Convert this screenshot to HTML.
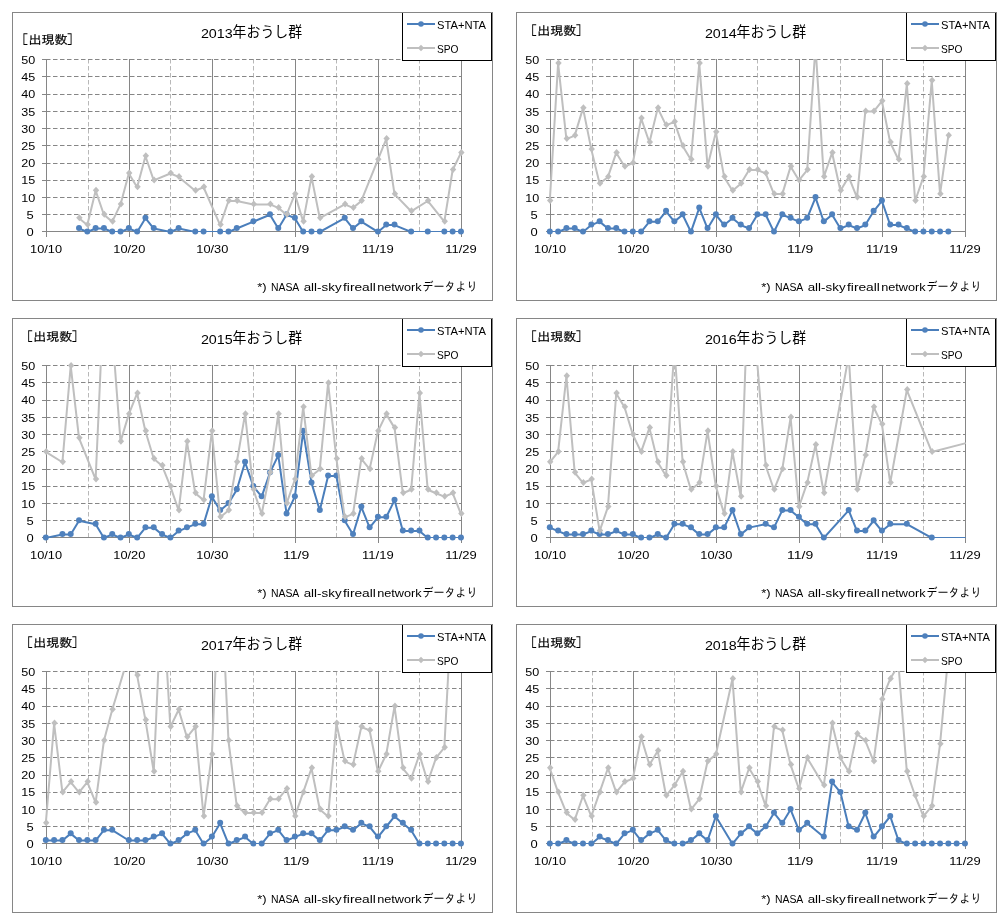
<!DOCTYPE html>
<html><head><meta charset="utf-8"><title>おうし群 出現数</title>
<style>
html,body{margin:0;padding:0;background:#fff;}
body{width:1008px;height:920px;overflow:hidden;}
svg{display:block;}
text{fill:#000;}
.ax{font-family:'Liberation Sans', 'Noto Sans CJK JP', sans-serif;font-size:11px;}
.lg{font-family:'Liberation Sans', 'Noto Sans CJK JP', sans-serif;font-size:11px;}
.tt{font-family:'Liberation Sans', 'Noto Sans CJK JP', sans-serif;font-size:13.5px;}
.tj{font-family:'Noto Sans CJK JP', sans-serif;font-size:14.5px;}
.yu{font-family:'Liberation Sans', 'IPAGothic', 'Noto Sans CJK JP', sans-serif;font-size:12px;stroke:#000;stroke-width:0.2px;}
.yb{font-family:'IPAGothic',sans-serif;font-size:13px;}
.fn{font-family:'Liberation Sans', 'Noto Sans CJK JP', sans-serif;font-size:10px;}
.fj{font-family:'Liberation Sans', 'IPAGothic', 'Noto Sans CJK JP', sans-serif;font-size:12.5px;}
</style></head><body>
<svg width="1008" height="920" viewBox="0 0 1008 920">
<defs><clipPath id="clip"><rect x="0" y="59" width="1008" height="173"/></clipPath></defs>
<g transform="translate(0,0)">
<rect x="12.5" y="12.5" width="480" height="288" fill="#fff" stroke="#868686" stroke-width="1"/>
<line x1="88.5" y1="59" x2="88.5" y2="231" stroke="#B8B8B8" stroke-width="1" stroke-dasharray="4.5 2.5"/>
<line x1="170.5" y1="59" x2="170.5" y2="231" stroke="#B8B8B8" stroke-width="1" stroke-dasharray="4.5 2.5"/>
<line x1="253.5" y1="59" x2="253.5" y2="231" stroke="#B8B8B8" stroke-width="1" stroke-dasharray="4.5 2.5"/>
<line x1="336.5" y1="59" x2="336.5" y2="231" stroke="#B8B8B8" stroke-width="1" stroke-dasharray="4.5 2.5"/>
<line x1="419.5" y1="59" x2="419.5" y2="231" stroke="#B8B8B8" stroke-width="1" stroke-dasharray="4.5 2.5"/>
<line x1="46" y1="59.5" x2="462" y2="59.5" stroke="#868686" stroke-width="1" stroke-dasharray="4.5 2.5"/>
<line x1="46" y1="76.5" x2="462" y2="76.5" stroke="#868686" stroke-width="1" stroke-dasharray="4.5 2.5"/>
<line x1="46" y1="94.5" x2="462" y2="94.5" stroke="#868686" stroke-width="1" stroke-dasharray="4.5 2.5"/>
<line x1="46" y1="111.5" x2="462" y2="111.5" stroke="#868686" stroke-width="1" stroke-dasharray="4.5 2.5"/>
<line x1="46" y1="128.5" x2="462" y2="128.5" stroke="#868686" stroke-width="1" stroke-dasharray="4.5 2.5"/>
<line x1="46" y1="145.5" x2="462" y2="145.5" stroke="#868686" stroke-width="1" stroke-dasharray="4.5 2.5"/>
<line x1="46" y1="163.5" x2="462" y2="163.5" stroke="#868686" stroke-width="1" stroke-dasharray="4.5 2.5"/>
<line x1="46" y1="180.5" x2="462" y2="180.5" stroke="#868686" stroke-width="1" stroke-dasharray="4.5 2.5"/>
<line x1="46" y1="197.5" x2="462" y2="197.5" stroke="#868686" stroke-width="1" stroke-dasharray="4.5 2.5"/>
<line x1="46" y1="214.5" x2="462" y2="214.5" stroke="#868686" stroke-width="1" stroke-dasharray="4.5 2.5"/>
<line x1="129.5" y1="59" x2="129.5" y2="237" stroke="#868686" stroke-width="1"/>
<line x1="212.5" y1="59" x2="212.5" y2="237" stroke="#868686" stroke-width="1"/>
<line x1="295.5" y1="59" x2="295.5" y2="237" stroke="#868686" stroke-width="1"/>
<line x1="378.5" y1="59" x2="378.5" y2="237" stroke="#868686" stroke-width="1"/>
<line x1="461.5" y1="59" x2="461.5" y2="237" stroke="#868686" stroke-width="1"/>
<line x1="42" y1="59.5" x2="50" y2="59.5" stroke="#868686" stroke-width="1"/>
<line x1="42" y1="76.5" x2="50" y2="76.5" stroke="#868686" stroke-width="1"/>
<line x1="42" y1="94.5" x2="50" y2="94.5" stroke="#868686" stroke-width="1"/>
<line x1="42" y1="111.5" x2="50" y2="111.5" stroke="#868686" stroke-width="1"/>
<line x1="42" y1="128.5" x2="50" y2="128.5" stroke="#868686" stroke-width="1"/>
<line x1="42" y1="145.5" x2="50" y2="145.5" stroke="#868686" stroke-width="1"/>
<line x1="42" y1="163.5" x2="50" y2="163.5" stroke="#868686" stroke-width="1"/>
<line x1="42" y1="180.5" x2="50" y2="180.5" stroke="#868686" stroke-width="1"/>
<line x1="42" y1="197.5" x2="50" y2="197.5" stroke="#868686" stroke-width="1"/>
<line x1="42" y1="214.5" x2="50" y2="214.5" stroke="#868686" stroke-width="1"/>
<line x1="42" y1="231.5" x2="50" y2="231.5" stroke="#868686" stroke-width="1"/>
<line x1="42" y1="231.5" x2="462" y2="231.5" stroke="#868686" stroke-width="1"/>
<line x1="46.5" y1="59" x2="46.5" y2="237" stroke="#868686" stroke-width="1"/>
<g clip-path="url(#clip)">
<polyline points="79.01,228.51 87.31,231.95 95.62,228.51 103.92,228.51 112.22,231.95 120.53,231.95 128.83,228.51 137.13,231.95 145.44,218.19 153.74,228.51 170.35,231.95 178.65,228.51 195.25,231.95 203.56,231.95 220.16,231.95 228.47,231.95 236.77,228.51 253.38,221.63 269.98,214.75 278.28,228.51 286.59,214.75 294.89,218.19 303.19,231.95 311.5,231.95 319.8,231.95 344.71,218.19 353.01,228.51 361.31,221.63 377.92,231.95 386.22,225.07 394.53,225.07 411.13,231.95 427.74,231.95 444.34,231.95 452.65,231.95 460.95,231.95" fill="none" stroke="#4A7EBB" stroke-width="2.0" stroke-linejoin="round" stroke-linecap="round"/>
</g>
<circle cx="79.01" cy="228.06" r="3" fill="#4F81BD"/>
<circle cx="87.31" cy="231.5" r="3" fill="#4F81BD"/>
<circle cx="95.62" cy="228.06" r="3" fill="#4F81BD"/>
<circle cx="103.92" cy="228.06" r="3" fill="#4F81BD"/>
<circle cx="112.22" cy="231.5" r="3" fill="#4F81BD"/>
<circle cx="120.53" cy="231.5" r="3" fill="#4F81BD"/>
<circle cx="128.83" cy="228.06" r="3" fill="#4F81BD"/>
<circle cx="137.13" cy="231.5" r="3" fill="#4F81BD"/>
<circle cx="145.44" cy="217.74" r="3" fill="#4F81BD"/>
<circle cx="153.74" cy="228.06" r="3" fill="#4F81BD"/>
<circle cx="170.35" cy="231.5" r="3" fill="#4F81BD"/>
<circle cx="178.65" cy="228.06" r="3" fill="#4F81BD"/>
<circle cx="195.25" cy="231.5" r="3" fill="#4F81BD"/>
<circle cx="203.56" cy="231.5" r="3" fill="#4F81BD"/>
<circle cx="220.16" cy="231.5" r="3" fill="#4F81BD"/>
<circle cx="228.47" cy="231.5" r="3" fill="#4F81BD"/>
<circle cx="236.77" cy="228.06" r="3" fill="#4F81BD"/>
<circle cx="253.38" cy="221.18" r="3" fill="#4F81BD"/>
<circle cx="269.98" cy="214.3" r="3" fill="#4F81BD"/>
<circle cx="278.28" cy="228.06" r="3" fill="#4F81BD"/>
<circle cx="286.59" cy="214.3" r="3" fill="#4F81BD"/>
<circle cx="294.89" cy="217.74" r="3" fill="#4F81BD"/>
<circle cx="303.19" cy="231.5" r="3" fill="#4F81BD"/>
<circle cx="311.5" cy="231.5" r="3" fill="#4F81BD"/>
<circle cx="319.8" cy="231.5" r="3" fill="#4F81BD"/>
<circle cx="344.71" cy="217.74" r="3" fill="#4F81BD"/>
<circle cx="353.01" cy="228.06" r="3" fill="#4F81BD"/>
<circle cx="361.31" cy="221.18" r="3" fill="#4F81BD"/>
<circle cx="377.92" cy="231.5" r="3" fill="#4F81BD"/>
<circle cx="386.22" cy="224.62" r="3" fill="#4F81BD"/>
<circle cx="394.53" cy="224.62" r="3" fill="#4F81BD"/>
<circle cx="411.13" cy="231.5" r="3" fill="#4F81BD"/>
<circle cx="427.74" cy="231.5" r="3" fill="#4F81BD"/>
<circle cx="444.34" cy="231.5" r="3" fill="#4F81BD"/>
<circle cx="452.65" cy="231.5" r="3" fill="#4F81BD"/>
<circle cx="460.95" cy="231.5" r="3" fill="#4F81BD"/>
<g clip-path="url(#clip)">
<polyline points="79.01,218.19 87.31,225.07 95.62,190.67 103.92,214.75 112.22,221.63 120.53,204.43 128.83,173.47 137.13,187.23 145.44,156.27 153.74,180.35 170.35,173.47 178.65,176.91 195.25,190.67 203.56,187.23 220.16,225.07 228.47,200.99 236.77,200.99 253.38,204.43 269.98,204.43 278.28,207.87 286.59,214.75 294.89,194.11 303.19,221.63 311.5,176.91 319.8,218.19 344.71,204.43 353.01,207.87 361.31,200.99 377.92,159.71 386.22,139.07 394.53,194.11 411.13,211.31 427.74,200.99 444.34,221.63 452.65,170.03 460.95,152.83" fill="none" stroke="#BFBFBF" stroke-width="2.0" stroke-linejoin="round" stroke-linecap="round"/>
</g>
<path d="M79.41 214.24L82.61 217.74L79.41 221.24L76.21 217.74Z" fill="#BFBFBF"/>
<path d="M87.72 221.12L90.92 224.62L87.72 228.12L84.52 224.62Z" fill="#BFBFBF"/>
<path d="M96.02 186.72L99.22 190.22L96.02 193.72L92.82 190.22Z" fill="#BFBFBF"/>
<path d="M104.32 210.8L107.52 214.3L104.32 217.8L101.12 214.3Z" fill="#BFBFBF"/>
<path d="M112.62 217.68L115.82 221.18L112.62 224.68L109.42 221.18Z" fill="#BFBFBF"/>
<path d="M120.93 200.48L124.13 203.98L120.93 207.48L117.73 203.98Z" fill="#BFBFBF"/>
<path d="M129.23 169.52L132.43 173.02L129.23 176.52L126.03 173.02Z" fill="#BFBFBF"/>
<path d="M137.53 183.28L140.73 186.78L137.53 190.28L134.33 186.78Z" fill="#BFBFBF"/>
<path d="M145.84 152.32L149.04 155.82L145.84 159.32L142.64 155.82Z" fill="#BFBFBF"/>
<path d="M154.14 176.4L157.34 179.9L154.14 183.4L150.94 179.9Z" fill="#BFBFBF"/>
<path d="M170.75 169.52L173.95 173.02L170.75 176.52L167.55 173.02Z" fill="#BFBFBF"/>
<path d="M179.05 172.96L182.25 176.46L179.05 179.96L175.85 176.46Z" fill="#BFBFBF"/>
<path d="M195.65 186.72L198.85 190.22L195.65 193.72L192.45 190.22Z" fill="#BFBFBF"/>
<path d="M203.96 183.28L207.16 186.78L203.96 190.28L200.76 186.78Z" fill="#BFBFBF"/>
<path d="M220.56 221.12L223.76 224.62L220.56 228.12L217.36 224.62Z" fill="#BFBFBF"/>
<path d="M228.87 197.04L232.07 200.54L228.87 204.04L225.67 200.54Z" fill="#BFBFBF"/>
<path d="M237.17 197.04L240.37 200.54L237.17 204.04L233.97 200.54Z" fill="#BFBFBF"/>
<path d="M253.78 200.48L256.98 203.98L253.78 207.48L250.58 203.98Z" fill="#BFBFBF"/>
<path d="M270.38 200.48L273.58 203.98L270.38 207.48L267.18 203.98Z" fill="#BFBFBF"/>
<path d="M278.68 203.92L281.88 207.42L278.68 210.92L275.48 207.42Z" fill="#BFBFBF"/>
<path d="M286.99 210.8L290.19 214.3L286.99 217.8L283.79 214.3Z" fill="#BFBFBF"/>
<path d="M295.29 190.16L298.49 193.66L295.29 197.16L292.09 193.66Z" fill="#BFBFBF"/>
<path d="M303.59 217.68L306.79 221.18L303.59 224.68L300.39 221.18Z" fill="#BFBFBF"/>
<path d="M311.9 172.96L315.1 176.46L311.9 179.96L308.7 176.46Z" fill="#BFBFBF"/>
<path d="M320.2 214.24L323.4 217.74L320.2 221.24L317 217.74Z" fill="#BFBFBF"/>
<path d="M345.11 200.48L348.31 203.98L345.11 207.48L341.91 203.98Z" fill="#BFBFBF"/>
<path d="M353.41 203.92L356.61 207.42L353.41 210.92L350.21 207.42Z" fill="#BFBFBF"/>
<path d="M361.71 197.04L364.91 200.54L361.71 204.04L358.51 200.54Z" fill="#BFBFBF"/>
<path d="M378.32 155.76L381.52 159.26L378.32 162.76L375.12 159.26Z" fill="#BFBFBF"/>
<path d="M386.62 135.12L389.82 138.62L386.62 142.12L383.42 138.62Z" fill="#BFBFBF"/>
<path d="M394.93 190.16L398.13 193.66L394.93 197.16L391.73 193.66Z" fill="#BFBFBF"/>
<path d="M411.53 207.36L414.73 210.86L411.53 214.36L408.33 210.86Z" fill="#BFBFBF"/>
<path d="M428.14 197.04L431.34 200.54L428.14 204.04L424.94 200.54Z" fill="#BFBFBF"/>
<path d="M444.74 217.68L447.94 221.18L444.74 224.68L441.54 221.18Z" fill="#BFBFBF"/>
<path d="M453.05 166.08L456.25 169.58L453.05 173.08L449.85 169.58Z" fill="#BFBFBF"/>
<path d="M461.35 148.88L464.55 152.38L461.35 155.88L458.15 152.38Z" fill="#BFBFBF"/>
<rect x="402.5" y="12.5" width="89" height="48" fill="#fff" stroke="#000" stroke-width="1"/>
<rect x="12.5" y="12.5" width="480" height="288" fill="none" stroke="#868686" stroke-width="1"/>
<line x1="407" y1="24" x2="435" y2="24" stroke="#4A7EBB" stroke-width="2.0"/>
<circle cx="421" cy="24" r="2.8" fill="#4F81BD"/>
<line x1="407" y1="48" x2="435" y2="48" stroke="#BFBFBF" stroke-width="2.0"/>
<path d="M421 44.8L424.2 48L421 51.2L417.8 48Z" fill="#BFBFBF"/>
<text x="437" y="29" class="lg" textLength="49" lengthAdjust="spacingAndGlyphs">STA+NTA</text>
<text x="437" y="52.5" class="lg" textLength="21.5" lengthAdjust="spacingAndGlyphs">SPO</text>
<text x="200.9" y="37.9" class="tt" textLength="31.8" lengthAdjust="spacingAndGlyphs">2013</text>
<text x="232.6" y="37" class="tj" textLength="69.5" lengthAdjust="spacingAndGlyphs">年おうし群</text>
<text x="21.9" y="44.2" class="yb">[</text>
<text x="28.4" y="44.3" class="yu" textLength="39.2" lengthAdjust="spacingAndGlyphs">出現数</text>
<text x="66.5" y="44.2" class="yb">]</text>
<text x="21.2" y="63.9" class="ax" textLength="14" lengthAdjust="spacingAndGlyphs">50</text>
<text x="21.2" y="81.1" class="ax" textLength="14" lengthAdjust="spacingAndGlyphs">45</text>
<text x="21.2" y="98.3" class="ax" textLength="14" lengthAdjust="spacingAndGlyphs">40</text>
<text x="21.2" y="115.5" class="ax" textLength="14" lengthAdjust="spacingAndGlyphs">35</text>
<text x="21.2" y="132.7" class="ax" textLength="14" lengthAdjust="spacingAndGlyphs">30</text>
<text x="21.2" y="149.9" class="ax" textLength="14" lengthAdjust="spacingAndGlyphs">25</text>
<text x="21.2" y="167.1" class="ax" textLength="14" lengthAdjust="spacingAndGlyphs">20</text>
<text x="21.2" y="184.3" class="ax" textLength="14" lengthAdjust="spacingAndGlyphs">15</text>
<text x="21.2" y="201.5" class="ax" textLength="14" lengthAdjust="spacingAndGlyphs">10</text>
<text x="26.6" y="218.7" class="ax" textLength="7.2" lengthAdjust="spacingAndGlyphs">5</text>
<text x="26.6" y="235.9" class="ax" textLength="7.2" lengthAdjust="spacingAndGlyphs">0</text>
<text x="30.1" y="253.2" class="ax" textLength="32" lengthAdjust="spacingAndGlyphs">10/10</text>
<text x="113.3" y="253.2" class="ax" textLength="32" lengthAdjust="spacingAndGlyphs">10/20</text>
<text x="196.3" y="253.2" class="ax" textLength="32" lengthAdjust="spacingAndGlyphs">10/30</text>
<text x="283" y="253.2" class="ax" textLength="26.2" lengthAdjust="spacingAndGlyphs">11/9</text>
<text x="362.1" y="253.2" class="ax" textLength="31.6" lengthAdjust="spacingAndGlyphs">11/19</text>
<text x="445.3" y="253.2" class="ax" textLength="31.5" lengthAdjust="spacingAndGlyphs">11/29</text>
<text x="257.2" y="290.7" class="fn" textLength="9.4" lengthAdjust="spacingAndGlyphs">*)</text>
<text x="270.9" y="290.7" class="fn" textLength="28.4" lengthAdjust="spacingAndGlyphs">NASA</text>
<text x="303.7" y="290.7" class="fn" textLength="37.9" lengthAdjust="spacingAndGlyphs">all-sky</text>
<text x="343" y="290.7" class="fn" textLength="32.9" lengthAdjust="spacingAndGlyphs">fireall</text>
<text x="377.2" y="290.7" class="fn" textLength="44.5" lengthAdjust="spacingAndGlyphs">network</text>
<text x="422.6" y="290.8" class="fj" textLength="55" lengthAdjust="spacingAndGlyphs">データより</text>
</g>
<g transform="translate(504,0)">
<rect x="12.5" y="12.5" width="480" height="288" fill="#fff" stroke="#868686" stroke-width="1"/>
<line x1="88.5" y1="59" x2="88.5" y2="231" stroke="#B8B8B8" stroke-width="1" stroke-dasharray="4.5 2.5"/>
<line x1="170.5" y1="59" x2="170.5" y2="231" stroke="#B8B8B8" stroke-width="1" stroke-dasharray="4.5 2.5"/>
<line x1="253.5" y1="59" x2="253.5" y2="231" stroke="#B8B8B8" stroke-width="1" stroke-dasharray="4.5 2.5"/>
<line x1="336.5" y1="59" x2="336.5" y2="231" stroke="#B8B8B8" stroke-width="1" stroke-dasharray="4.5 2.5"/>
<line x1="419.5" y1="59" x2="419.5" y2="231" stroke="#B8B8B8" stroke-width="1" stroke-dasharray="4.5 2.5"/>
<line x1="46" y1="59.5" x2="462" y2="59.5" stroke="#868686" stroke-width="1" stroke-dasharray="4.5 2.5"/>
<line x1="46" y1="76.5" x2="462" y2="76.5" stroke="#868686" stroke-width="1" stroke-dasharray="4.5 2.5"/>
<line x1="46" y1="94.5" x2="462" y2="94.5" stroke="#868686" stroke-width="1" stroke-dasharray="4.5 2.5"/>
<line x1="46" y1="111.5" x2="462" y2="111.5" stroke="#868686" stroke-width="1" stroke-dasharray="4.5 2.5"/>
<line x1="46" y1="128.5" x2="462" y2="128.5" stroke="#868686" stroke-width="1" stroke-dasharray="4.5 2.5"/>
<line x1="46" y1="145.5" x2="462" y2="145.5" stroke="#868686" stroke-width="1" stroke-dasharray="4.5 2.5"/>
<line x1="46" y1="163.5" x2="462" y2="163.5" stroke="#868686" stroke-width="1" stroke-dasharray="4.5 2.5"/>
<line x1="46" y1="180.5" x2="462" y2="180.5" stroke="#868686" stroke-width="1" stroke-dasharray="4.5 2.5"/>
<line x1="46" y1="197.5" x2="462" y2="197.5" stroke="#868686" stroke-width="1" stroke-dasharray="4.5 2.5"/>
<line x1="46" y1="214.5" x2="462" y2="214.5" stroke="#868686" stroke-width="1" stroke-dasharray="4.5 2.5"/>
<line x1="129.5" y1="59" x2="129.5" y2="237" stroke="#868686" stroke-width="1"/>
<line x1="212.5" y1="59" x2="212.5" y2="237" stroke="#868686" stroke-width="1"/>
<line x1="295.5" y1="59" x2="295.5" y2="237" stroke="#868686" stroke-width="1"/>
<line x1="378.5" y1="59" x2="378.5" y2="237" stroke="#868686" stroke-width="1"/>
<line x1="461.5" y1="59" x2="461.5" y2="237" stroke="#868686" stroke-width="1"/>
<line x1="42" y1="59.5" x2="50" y2="59.5" stroke="#868686" stroke-width="1"/>
<line x1="42" y1="76.5" x2="50" y2="76.5" stroke="#868686" stroke-width="1"/>
<line x1="42" y1="94.5" x2="50" y2="94.5" stroke="#868686" stroke-width="1"/>
<line x1="42" y1="111.5" x2="50" y2="111.5" stroke="#868686" stroke-width="1"/>
<line x1="42" y1="128.5" x2="50" y2="128.5" stroke="#868686" stroke-width="1"/>
<line x1="42" y1="145.5" x2="50" y2="145.5" stroke="#868686" stroke-width="1"/>
<line x1="42" y1="163.5" x2="50" y2="163.5" stroke="#868686" stroke-width="1"/>
<line x1="42" y1="180.5" x2="50" y2="180.5" stroke="#868686" stroke-width="1"/>
<line x1="42" y1="197.5" x2="50" y2="197.5" stroke="#868686" stroke-width="1"/>
<line x1="42" y1="214.5" x2="50" y2="214.5" stroke="#868686" stroke-width="1"/>
<line x1="42" y1="231.5" x2="50" y2="231.5" stroke="#868686" stroke-width="1"/>
<line x1="42" y1="231.5" x2="462" y2="231.5" stroke="#868686" stroke-width="1"/>
<line x1="46.5" y1="59" x2="46.5" y2="237" stroke="#868686" stroke-width="1"/>
<g clip-path="url(#clip)">
<polyline points="45.8,231.95 54.1,231.95 62.41,228.51 70.71,228.51 79.01,231.95 87.31,225.07 95.62,221.63 103.92,228.51 112.22,228.51 120.53,231.95 128.83,231.95 137.13,231.95 145.44,221.63 153.74,221.63 162.04,211.31 170.35,221.63 178.65,214.75 186.95,231.95 195.25,207.87 203.56,228.51 211.86,214.75 220.16,225.07 228.47,218.19 236.77,225.07 245.07,228.51 253.38,214.75 261.68,214.75 269.98,231.95 278.28,214.75 286.59,218.19 294.89,221.63 303.19,218.19 311.5,197.55 319.8,221.63 328.1,214.75 336.41,228.51 344.71,225.07 353.01,228.51 361.31,225.07 369.62,211.31 377.92,200.99 386.22,225.07 394.53,225.07 402.83,228.51 411.13,231.95 419.44,231.95 427.74,231.95 436.04,231.95 444.34,231.95" fill="none" stroke="#4A7EBB" stroke-width="2.0" stroke-linejoin="round" stroke-linecap="round"/>
</g>
<circle cx="45.8" cy="231.5" r="3" fill="#4F81BD"/>
<circle cx="54.1" cy="231.5" r="3" fill="#4F81BD"/>
<circle cx="62.41" cy="228.06" r="3" fill="#4F81BD"/>
<circle cx="70.71" cy="228.06" r="3" fill="#4F81BD"/>
<circle cx="79.01" cy="231.5" r="3" fill="#4F81BD"/>
<circle cx="87.31" cy="224.62" r="3" fill="#4F81BD"/>
<circle cx="95.62" cy="221.18" r="3" fill="#4F81BD"/>
<circle cx="103.92" cy="228.06" r="3" fill="#4F81BD"/>
<circle cx="112.22" cy="228.06" r="3" fill="#4F81BD"/>
<circle cx="120.53" cy="231.5" r="3" fill="#4F81BD"/>
<circle cx="128.83" cy="231.5" r="3" fill="#4F81BD"/>
<circle cx="137.13" cy="231.5" r="3" fill="#4F81BD"/>
<circle cx="145.44" cy="221.18" r="3" fill="#4F81BD"/>
<circle cx="153.74" cy="221.18" r="3" fill="#4F81BD"/>
<circle cx="162.04" cy="210.86" r="3" fill="#4F81BD"/>
<circle cx="170.35" cy="221.18" r="3" fill="#4F81BD"/>
<circle cx="178.65" cy="214.3" r="3" fill="#4F81BD"/>
<circle cx="186.95" cy="231.5" r="3" fill="#4F81BD"/>
<circle cx="195.25" cy="207.42" r="3" fill="#4F81BD"/>
<circle cx="203.56" cy="228.06" r="3" fill="#4F81BD"/>
<circle cx="211.86" cy="214.3" r="3" fill="#4F81BD"/>
<circle cx="220.16" cy="224.62" r="3" fill="#4F81BD"/>
<circle cx="228.47" cy="217.74" r="3" fill="#4F81BD"/>
<circle cx="236.77" cy="224.62" r="3" fill="#4F81BD"/>
<circle cx="245.07" cy="228.06" r="3" fill="#4F81BD"/>
<circle cx="253.38" cy="214.3" r="3" fill="#4F81BD"/>
<circle cx="261.68" cy="214.3" r="3" fill="#4F81BD"/>
<circle cx="269.98" cy="231.5" r="3" fill="#4F81BD"/>
<circle cx="278.28" cy="214.3" r="3" fill="#4F81BD"/>
<circle cx="286.59" cy="217.74" r="3" fill="#4F81BD"/>
<circle cx="294.89" cy="221.18" r="3" fill="#4F81BD"/>
<circle cx="303.19" cy="217.74" r="3" fill="#4F81BD"/>
<circle cx="311.5" cy="197.1" r="3" fill="#4F81BD"/>
<circle cx="319.8" cy="221.18" r="3" fill="#4F81BD"/>
<circle cx="328.1" cy="214.3" r="3" fill="#4F81BD"/>
<circle cx="336.41" cy="228.06" r="3" fill="#4F81BD"/>
<circle cx="344.71" cy="224.62" r="3" fill="#4F81BD"/>
<circle cx="353.01" cy="228.06" r="3" fill="#4F81BD"/>
<circle cx="361.31" cy="224.62" r="3" fill="#4F81BD"/>
<circle cx="369.62" cy="210.86" r="3" fill="#4F81BD"/>
<circle cx="377.92" cy="200.54" r="3" fill="#4F81BD"/>
<circle cx="386.22" cy="224.62" r="3" fill="#4F81BD"/>
<circle cx="394.53" cy="224.62" r="3" fill="#4F81BD"/>
<circle cx="402.83" cy="228.06" r="3" fill="#4F81BD"/>
<circle cx="411.13" cy="231.5" r="3" fill="#4F81BD"/>
<circle cx="419.44" cy="231.5" r="3" fill="#4F81BD"/>
<circle cx="427.74" cy="231.5" r="3" fill="#4F81BD"/>
<circle cx="436.04" cy="231.5" r="3" fill="#4F81BD"/>
<circle cx="444.34" cy="231.5" r="3" fill="#4F81BD"/>
<g clip-path="url(#clip)">
<polyline points="45.8,200.99 54.1,63.39 62.41,139.07 70.71,135.63 79.01,108.11 87.31,149.39 95.62,183.79 103.92,176.91 112.22,152.83 120.53,166.59 128.83,163.15 137.13,118.43 145.44,142.51 153.74,108.11 162.04,125.31 170.35,121.87 178.65,145.95 186.95,159.71 195.25,63.39 203.56,166.59 211.86,132.19 220.16,176.91 228.47,190.67 236.77,183.79 245.07,170.03 253.38,170.03 261.68,173.47 269.98,194.11 278.28,194.11 286.59,166.59 294.89,180.35 303.19,170.03 311.5,46.19 319.8,176.91 328.1,152.83 336.41,190.67 344.71,176.91 353.01,197.55 361.31,111.55 369.62,111.55 377.92,101.23 386.22,142.51 394.53,159.71 402.83,84.03 411.13,200.99 419.44,176.91 427.74,80.59 436.04,194.11 444.34,135.63" fill="none" stroke="#BFBFBF" stroke-width="2.0" stroke-linejoin="round" stroke-linecap="round"/>
</g>
<path d="M46.2 197.04L49.4 200.54L46.2 204.04L43 200.54Z" fill="#BFBFBF"/>
<path d="M54.5 59.44L57.7 62.94L54.5 66.44L51.3 62.94Z" fill="#BFBFBF"/>
<path d="M62.81 135.12L66.01 138.62L62.81 142.12L59.61 138.62Z" fill="#BFBFBF"/>
<path d="M71.11 131.68L74.31 135.18L71.11 138.68L67.91 135.18Z" fill="#BFBFBF"/>
<path d="M79.41 104.16L82.61 107.66L79.41 111.16L76.21 107.66Z" fill="#BFBFBF"/>
<path d="M87.72 145.44L90.92 148.94L87.72 152.44L84.52 148.94Z" fill="#BFBFBF"/>
<path d="M96.02 179.84L99.22 183.34L96.02 186.84L92.82 183.34Z" fill="#BFBFBF"/>
<path d="M104.32 172.96L107.52 176.46L104.32 179.96L101.12 176.46Z" fill="#BFBFBF"/>
<path d="M112.62 148.88L115.82 152.38L112.62 155.88L109.42 152.38Z" fill="#BFBFBF"/>
<path d="M120.93 162.64L124.13 166.14L120.93 169.64L117.73 166.14Z" fill="#BFBFBF"/>
<path d="M129.23 159.2L132.43 162.7L129.23 166.2L126.03 162.7Z" fill="#BFBFBF"/>
<path d="M137.53 114.48L140.73 117.98L137.53 121.48L134.33 117.98Z" fill="#BFBFBF"/>
<path d="M145.84 138.56L149.04 142.06L145.84 145.56L142.64 142.06Z" fill="#BFBFBF"/>
<path d="M154.14 104.16L157.34 107.66L154.14 111.16L150.94 107.66Z" fill="#BFBFBF"/>
<path d="M162.44 121.36L165.64 124.86L162.44 128.36L159.24 124.86Z" fill="#BFBFBF"/>
<path d="M170.75 117.92L173.95 121.42L170.75 124.92L167.55 121.42Z" fill="#BFBFBF"/>
<path d="M179.05 142L182.25 145.5L179.05 149L175.85 145.5Z" fill="#BFBFBF"/>
<path d="M187.35 155.76L190.55 159.26L187.35 162.76L184.15 159.26Z" fill="#BFBFBF"/>
<path d="M195.65 59.44L198.85 62.94L195.65 66.44L192.45 62.94Z" fill="#BFBFBF"/>
<path d="M203.96 162.64L207.16 166.14L203.96 169.64L200.76 166.14Z" fill="#BFBFBF"/>
<path d="M212.26 128.24L215.46 131.74L212.26 135.24L209.06 131.74Z" fill="#BFBFBF"/>
<path d="M220.56 172.96L223.76 176.46L220.56 179.96L217.36 176.46Z" fill="#BFBFBF"/>
<path d="M228.87 186.72L232.07 190.22L228.87 193.72L225.67 190.22Z" fill="#BFBFBF"/>
<path d="M237.17 179.84L240.37 183.34L237.17 186.84L233.97 183.34Z" fill="#BFBFBF"/>
<path d="M245.47 166.08L248.67 169.58L245.47 173.08L242.27 169.58Z" fill="#BFBFBF"/>
<path d="M253.78 166.08L256.98 169.58L253.78 173.08L250.58 169.58Z" fill="#BFBFBF"/>
<path d="M262.08 169.52L265.28 173.02L262.08 176.52L258.88 173.02Z" fill="#BFBFBF"/>
<path d="M270.38 190.16L273.58 193.66L270.38 197.16L267.18 193.66Z" fill="#BFBFBF"/>
<path d="M278.68 190.16L281.88 193.66L278.68 197.16L275.48 193.66Z" fill="#BFBFBF"/>
<path d="M286.99 162.64L290.19 166.14L286.99 169.64L283.79 166.14Z" fill="#BFBFBF"/>
<path d="M295.29 176.4L298.49 179.9L295.29 183.4L292.09 179.9Z" fill="#BFBFBF"/>
<path d="M303.59 166.08L306.79 169.58L303.59 173.08L300.39 169.58Z" fill="#BFBFBF"/>
<path d="M320.2 172.96L323.4 176.46L320.2 179.96L317 176.46Z" fill="#BFBFBF"/>
<path d="M328.5 148.88L331.7 152.38L328.5 155.88L325.3 152.38Z" fill="#BFBFBF"/>
<path d="M336.81 186.72L340 190.22L336.81 193.72L333.61 190.22Z" fill="#BFBFBF"/>
<path d="M345.11 172.96L348.31 176.46L345.11 179.96L341.91 176.46Z" fill="#BFBFBF"/>
<path d="M353.41 193.6L356.61 197.1L353.41 200.6L350.21 197.1Z" fill="#BFBFBF"/>
<path d="M361.71 107.6L364.91 111.1L361.71 114.6L358.51 111.1Z" fill="#BFBFBF"/>
<path d="M370.02 107.6L373.22 111.1L370.02 114.6L366.82 111.1Z" fill="#BFBFBF"/>
<path d="M378.32 97.28L381.52 100.78L378.32 104.28L375.12 100.78Z" fill="#BFBFBF"/>
<path d="M386.62 138.56L389.82 142.06L386.62 145.56L383.42 142.06Z" fill="#BFBFBF"/>
<path d="M394.93 155.76L398.13 159.26L394.93 162.76L391.73 159.26Z" fill="#BFBFBF"/>
<path d="M403.23 80.08L406.43 83.58L403.23 87.08L400.03 83.58Z" fill="#BFBFBF"/>
<path d="M411.53 197.04L414.73 200.54L411.53 204.04L408.33 200.54Z" fill="#BFBFBF"/>
<path d="M419.84 172.96L423.04 176.46L419.84 179.96L416.64 176.46Z" fill="#BFBFBF"/>
<path d="M428.14 76.64L431.34 80.14L428.14 83.64L424.94 80.14Z" fill="#BFBFBF"/>
<path d="M436.44 190.16L439.64 193.66L436.44 197.16L433.24 193.66Z" fill="#BFBFBF"/>
<path d="M444.74 131.68L447.94 135.18L444.74 138.68L441.54 135.18Z" fill="#BFBFBF"/>
<rect x="402.5" y="12.5" width="89" height="48" fill="#fff" stroke="#000" stroke-width="1"/>
<rect x="12.5" y="12.5" width="480" height="288" fill="none" stroke="#868686" stroke-width="1"/>
<line x1="407" y1="24" x2="435" y2="24" stroke="#4A7EBB" stroke-width="2.0"/>
<circle cx="421" cy="24" r="2.8" fill="#4F81BD"/>
<line x1="407" y1="48" x2="435" y2="48" stroke="#BFBFBF" stroke-width="2.0"/>
<path d="M421 44.8L424.2 48L421 51.2L417.8 48Z" fill="#BFBFBF"/>
<text x="437" y="29" class="lg" textLength="49" lengthAdjust="spacingAndGlyphs">STA+NTA</text>
<text x="437" y="52.5" class="lg" textLength="21.5" lengthAdjust="spacingAndGlyphs">SPO</text>
<text x="200.9" y="37.9" class="tt" textLength="31.8" lengthAdjust="spacingAndGlyphs">2014</text>
<text x="232.6" y="37" class="tj" textLength="69.5" lengthAdjust="spacingAndGlyphs">年おうし群</text>
<text x="26.7" y="35.2" class="yb">[</text>
<text x="33.2" y="35.3" class="yu" textLength="39.2" lengthAdjust="spacingAndGlyphs">出現数</text>
<text x="71.3" y="35.2" class="yb">]</text>
<text x="21.2" y="63.9" class="ax" textLength="14" lengthAdjust="spacingAndGlyphs">50</text>
<text x="21.2" y="81.1" class="ax" textLength="14" lengthAdjust="spacingAndGlyphs">45</text>
<text x="21.2" y="98.3" class="ax" textLength="14" lengthAdjust="spacingAndGlyphs">40</text>
<text x="21.2" y="115.5" class="ax" textLength="14" lengthAdjust="spacingAndGlyphs">35</text>
<text x="21.2" y="132.7" class="ax" textLength="14" lengthAdjust="spacingAndGlyphs">30</text>
<text x="21.2" y="149.9" class="ax" textLength="14" lengthAdjust="spacingAndGlyphs">25</text>
<text x="21.2" y="167.1" class="ax" textLength="14" lengthAdjust="spacingAndGlyphs">20</text>
<text x="21.2" y="184.3" class="ax" textLength="14" lengthAdjust="spacingAndGlyphs">15</text>
<text x="21.2" y="201.5" class="ax" textLength="14" lengthAdjust="spacingAndGlyphs">10</text>
<text x="26.6" y="218.7" class="ax" textLength="7.2" lengthAdjust="spacingAndGlyphs">5</text>
<text x="26.6" y="235.9" class="ax" textLength="7.2" lengthAdjust="spacingAndGlyphs">0</text>
<text x="30.1" y="253.2" class="ax" textLength="32" lengthAdjust="spacingAndGlyphs">10/10</text>
<text x="113.3" y="253.2" class="ax" textLength="32" lengthAdjust="spacingAndGlyphs">10/20</text>
<text x="196.3" y="253.2" class="ax" textLength="32" lengthAdjust="spacingAndGlyphs">10/30</text>
<text x="283" y="253.2" class="ax" textLength="26.2" lengthAdjust="spacingAndGlyphs">11/9</text>
<text x="362.1" y="253.2" class="ax" textLength="31.6" lengthAdjust="spacingAndGlyphs">11/19</text>
<text x="445.3" y="253.2" class="ax" textLength="31.5" lengthAdjust="spacingAndGlyphs">11/29</text>
<text x="257.2" y="290.7" class="fn" textLength="9.4" lengthAdjust="spacingAndGlyphs">*)</text>
<text x="270.9" y="290.7" class="fn" textLength="28.4" lengthAdjust="spacingAndGlyphs">NASA</text>
<text x="303.7" y="290.7" class="fn" textLength="37.9" lengthAdjust="spacingAndGlyphs">all-sky</text>
<text x="343" y="290.7" class="fn" textLength="32.9" lengthAdjust="spacingAndGlyphs">fireall</text>
<text x="377.2" y="290.7" class="fn" textLength="44.5" lengthAdjust="spacingAndGlyphs">network</text>
<text x="422.6" y="290.8" class="fj" textLength="55" lengthAdjust="spacingAndGlyphs">データより</text>
</g>
<g transform="translate(0,306)">
<rect x="12.5" y="12.5" width="480" height="288" fill="#fff" stroke="#868686" stroke-width="1"/>
<line x1="88.5" y1="59" x2="88.5" y2="231" stroke="#B8B8B8" stroke-width="1" stroke-dasharray="4.5 2.5"/>
<line x1="170.5" y1="59" x2="170.5" y2="231" stroke="#B8B8B8" stroke-width="1" stroke-dasharray="4.5 2.5"/>
<line x1="253.5" y1="59" x2="253.5" y2="231" stroke="#B8B8B8" stroke-width="1" stroke-dasharray="4.5 2.5"/>
<line x1="336.5" y1="59" x2="336.5" y2="231" stroke="#B8B8B8" stroke-width="1" stroke-dasharray="4.5 2.5"/>
<line x1="419.5" y1="59" x2="419.5" y2="231" stroke="#B8B8B8" stroke-width="1" stroke-dasharray="4.5 2.5"/>
<line x1="46" y1="59.5" x2="462" y2="59.5" stroke="#868686" stroke-width="1" stroke-dasharray="4.5 2.5"/>
<line x1="46" y1="76.5" x2="462" y2="76.5" stroke="#868686" stroke-width="1" stroke-dasharray="4.5 2.5"/>
<line x1="46" y1="94.5" x2="462" y2="94.5" stroke="#868686" stroke-width="1" stroke-dasharray="4.5 2.5"/>
<line x1="46" y1="111.5" x2="462" y2="111.5" stroke="#868686" stroke-width="1" stroke-dasharray="4.5 2.5"/>
<line x1="46" y1="128.5" x2="462" y2="128.5" stroke="#868686" stroke-width="1" stroke-dasharray="4.5 2.5"/>
<line x1="46" y1="145.5" x2="462" y2="145.5" stroke="#868686" stroke-width="1" stroke-dasharray="4.5 2.5"/>
<line x1="46" y1="163.5" x2="462" y2="163.5" stroke="#868686" stroke-width="1" stroke-dasharray="4.5 2.5"/>
<line x1="46" y1="180.5" x2="462" y2="180.5" stroke="#868686" stroke-width="1" stroke-dasharray="4.5 2.5"/>
<line x1="46" y1="197.5" x2="462" y2="197.5" stroke="#868686" stroke-width="1" stroke-dasharray="4.5 2.5"/>
<line x1="46" y1="214.5" x2="462" y2="214.5" stroke="#868686" stroke-width="1" stroke-dasharray="4.5 2.5"/>
<line x1="129.5" y1="59" x2="129.5" y2="237" stroke="#868686" stroke-width="1"/>
<line x1="212.5" y1="59" x2="212.5" y2="237" stroke="#868686" stroke-width="1"/>
<line x1="295.5" y1="59" x2="295.5" y2="237" stroke="#868686" stroke-width="1"/>
<line x1="378.5" y1="59" x2="378.5" y2="237" stroke="#868686" stroke-width="1"/>
<line x1="461.5" y1="59" x2="461.5" y2="237" stroke="#868686" stroke-width="1"/>
<line x1="42" y1="59.5" x2="50" y2="59.5" stroke="#868686" stroke-width="1"/>
<line x1="42" y1="76.5" x2="50" y2="76.5" stroke="#868686" stroke-width="1"/>
<line x1="42" y1="94.5" x2="50" y2="94.5" stroke="#868686" stroke-width="1"/>
<line x1="42" y1="111.5" x2="50" y2="111.5" stroke="#868686" stroke-width="1"/>
<line x1="42" y1="128.5" x2="50" y2="128.5" stroke="#868686" stroke-width="1"/>
<line x1="42" y1="145.5" x2="50" y2="145.5" stroke="#868686" stroke-width="1"/>
<line x1="42" y1="163.5" x2="50" y2="163.5" stroke="#868686" stroke-width="1"/>
<line x1="42" y1="180.5" x2="50" y2="180.5" stroke="#868686" stroke-width="1"/>
<line x1="42" y1="197.5" x2="50" y2="197.5" stroke="#868686" stroke-width="1"/>
<line x1="42" y1="214.5" x2="50" y2="214.5" stroke="#868686" stroke-width="1"/>
<line x1="42" y1="231.5" x2="50" y2="231.5" stroke="#868686" stroke-width="1"/>
<line x1="42" y1="231.5" x2="462" y2="231.5" stroke="#868686" stroke-width="1"/>
<line x1="46.5" y1="59" x2="46.5" y2="237" stroke="#868686" stroke-width="1"/>
<g clip-path="url(#clip)">
<polyline points="45.8,231.95 62.41,228.51 70.71,228.51 79.01,214.75 95.62,218.19 103.92,231.95 112.22,228.51 120.53,231.95 128.83,228.51 137.13,231.95 145.44,221.63 153.74,221.63 162.04,228.51 170.35,231.95 178.65,225.07 186.95,221.63 195.25,218.19 203.56,218.19 211.86,190.67 220.16,204.43 228.47,197.55 236.77,183.79 245.07,156.27 253.38,180.35 261.68,190.67 269.98,166.59 278.28,149.39 286.59,207.87 294.89,190.67 303.19,125.31 311.5,176.91 319.8,204.43 328.1,170.03 336.41,170.03 344.71,214.75 353.01,228.51 361.31,200.99 369.62,221.63 377.92,211.31 386.22,211.31 394.53,194.11 402.83,225.07 411.13,225.07 419.44,225.07 427.74,231.95 436.04,231.95 444.34,231.95 452.65,231.95 460.95,231.95" fill="none" stroke="#4A7EBB" stroke-width="2.0" stroke-linejoin="round" stroke-linecap="round"/>
</g>
<circle cx="45.8" cy="231.5" r="3" fill="#4F81BD"/>
<circle cx="62.41" cy="228.06" r="3" fill="#4F81BD"/>
<circle cx="70.71" cy="228.06" r="3" fill="#4F81BD"/>
<circle cx="79.01" cy="214.3" r="3" fill="#4F81BD"/>
<circle cx="95.62" cy="217.74" r="3" fill="#4F81BD"/>
<circle cx="103.92" cy="231.5" r="3" fill="#4F81BD"/>
<circle cx="112.22" cy="228.06" r="3" fill="#4F81BD"/>
<circle cx="120.53" cy="231.5" r="3" fill="#4F81BD"/>
<circle cx="128.83" cy="228.06" r="3" fill="#4F81BD"/>
<circle cx="137.13" cy="231.5" r="3" fill="#4F81BD"/>
<circle cx="145.44" cy="221.18" r="3" fill="#4F81BD"/>
<circle cx="153.74" cy="221.18" r="3" fill="#4F81BD"/>
<circle cx="162.04" cy="228.06" r="3" fill="#4F81BD"/>
<circle cx="170.35" cy="231.5" r="3" fill="#4F81BD"/>
<circle cx="178.65" cy="224.62" r="3" fill="#4F81BD"/>
<circle cx="186.95" cy="221.18" r="3" fill="#4F81BD"/>
<circle cx="195.25" cy="217.74" r="3" fill="#4F81BD"/>
<circle cx="203.56" cy="217.74" r="3" fill="#4F81BD"/>
<circle cx="211.86" cy="190.22" r="3" fill="#4F81BD"/>
<circle cx="220.16" cy="203.98" r="3" fill="#4F81BD"/>
<circle cx="228.47" cy="197.1" r="3" fill="#4F81BD"/>
<circle cx="236.77" cy="183.34" r="3" fill="#4F81BD"/>
<circle cx="245.07" cy="155.82" r="3" fill="#4F81BD"/>
<circle cx="253.38" cy="179.9" r="3" fill="#4F81BD"/>
<circle cx="261.68" cy="190.22" r="3" fill="#4F81BD"/>
<circle cx="269.98" cy="166.14" r="3" fill="#4F81BD"/>
<circle cx="278.28" cy="148.94" r="3" fill="#4F81BD"/>
<circle cx="286.59" cy="207.42" r="3" fill="#4F81BD"/>
<circle cx="294.89" cy="190.22" r="3" fill="#4F81BD"/>
<circle cx="303.19" cy="124.86" r="3" fill="#4F81BD"/>
<circle cx="311.5" cy="176.46" r="3" fill="#4F81BD"/>
<circle cx="319.8" cy="203.98" r="3" fill="#4F81BD"/>
<circle cx="328.1" cy="169.58" r="3" fill="#4F81BD"/>
<circle cx="336.41" cy="169.58" r="3" fill="#4F81BD"/>
<circle cx="344.71" cy="214.3" r="3" fill="#4F81BD"/>
<circle cx="353.01" cy="228.06" r="3" fill="#4F81BD"/>
<circle cx="361.31" cy="200.54" r="3" fill="#4F81BD"/>
<circle cx="369.62" cy="221.18" r="3" fill="#4F81BD"/>
<circle cx="377.92" cy="210.86" r="3" fill="#4F81BD"/>
<circle cx="386.22" cy="210.86" r="3" fill="#4F81BD"/>
<circle cx="394.53" cy="193.66" r="3" fill="#4F81BD"/>
<circle cx="402.83" cy="224.62" r="3" fill="#4F81BD"/>
<circle cx="411.13" cy="224.62" r="3" fill="#4F81BD"/>
<circle cx="419.44" cy="224.62" r="3" fill="#4F81BD"/>
<circle cx="427.74" cy="231.5" r="3" fill="#4F81BD"/>
<circle cx="436.04" cy="231.5" r="3" fill="#4F81BD"/>
<circle cx="444.34" cy="231.5" r="3" fill="#4F81BD"/>
<circle cx="452.65" cy="231.5" r="3" fill="#4F81BD"/>
<circle cx="460.95" cy="231.5" r="3" fill="#4F81BD"/>
<g clip-path="url(#clip)">
<polyline points="45.8,145.95 62.41,156.27 70.71,59.95 79.01,132.19 95.62,173.47 103.92,-12.29 112.22,25.55 120.53,135.63 128.83,108.11 137.13,87.47 145.44,125.31 153.74,152.83 162.04,159.71 170.35,180.35 178.65,204.43 186.95,135.63 195.25,187.23 203.56,194.11 211.86,125.31 220.16,211.31 228.47,204.43 236.77,156.27 245.07,108.11 253.38,183.79 261.68,207.87 269.98,166.59 278.28,108.11 286.59,197.55 294.89,173.47 303.19,101.23 311.5,170.03 319.8,163.15 328.1,77.15 336.41,152.83 344.71,211.31 353.01,207.87 361.31,152.83 369.62,163.15 377.92,125.31 386.22,108.11 394.53,121.87 402.83,187.23 411.13,183.79 419.44,87.47 427.74,183.79 436.04,187.23 444.34,190.67 452.65,187.23 460.95,207.87" fill="none" stroke="#BFBFBF" stroke-width="2.0" stroke-linejoin="round" stroke-linecap="round"/>
</g>
<path d="M46.2 142L49.4 145.5L46.2 149L43 145.5Z" fill="#BFBFBF"/>
<path d="M62.81 152.32L66.01 155.82L62.81 159.32L59.61 155.82Z" fill="#BFBFBF"/>
<path d="M71.11 56L74.31 59.5L71.11 63L67.91 59.5Z" fill="#BFBFBF"/>
<path d="M79.41 128.24L82.61 131.74L79.41 135.24L76.21 131.74Z" fill="#BFBFBF"/>
<path d="M96.02 169.52L99.22 173.02L96.02 176.52L92.82 173.02Z" fill="#BFBFBF"/>
<path d="M120.93 131.68L124.13 135.18L120.93 138.68L117.73 135.18Z" fill="#BFBFBF"/>
<path d="M129.23 104.16L132.43 107.66L129.23 111.16L126.03 107.66Z" fill="#BFBFBF"/>
<path d="M137.53 83.52L140.73 87.02L137.53 90.52L134.33 87.02Z" fill="#BFBFBF"/>
<path d="M145.84 121.36L149.04 124.86L145.84 128.36L142.64 124.86Z" fill="#BFBFBF"/>
<path d="M154.14 148.88L157.34 152.38L154.14 155.88L150.94 152.38Z" fill="#BFBFBF"/>
<path d="M162.44 155.76L165.64 159.26L162.44 162.76L159.24 159.26Z" fill="#BFBFBF"/>
<path d="M170.75 176.4L173.95 179.9L170.75 183.4L167.55 179.9Z" fill="#BFBFBF"/>
<path d="M179.05 200.48L182.25 203.98L179.05 207.48L175.85 203.98Z" fill="#BFBFBF"/>
<path d="M187.35 131.68L190.55 135.18L187.35 138.68L184.15 135.18Z" fill="#BFBFBF"/>
<path d="M195.65 183.28L198.85 186.78L195.65 190.28L192.45 186.78Z" fill="#BFBFBF"/>
<path d="M203.96 190.16L207.16 193.66L203.96 197.16L200.76 193.66Z" fill="#BFBFBF"/>
<path d="M212.26 121.36L215.46 124.86L212.26 128.36L209.06 124.86Z" fill="#BFBFBF"/>
<path d="M220.56 207.36L223.76 210.86L220.56 214.36L217.36 210.86Z" fill="#BFBFBF"/>
<path d="M228.87 200.48L232.07 203.98L228.87 207.48L225.67 203.98Z" fill="#BFBFBF"/>
<path d="M237.17 152.32L240.37 155.82L237.17 159.32L233.97 155.82Z" fill="#BFBFBF"/>
<path d="M245.47 104.16L248.67 107.66L245.47 111.16L242.27 107.66Z" fill="#BFBFBF"/>
<path d="M253.78 179.84L256.98 183.34L253.78 186.84L250.58 183.34Z" fill="#BFBFBF"/>
<path d="M262.08 203.92L265.28 207.42L262.08 210.92L258.88 207.42Z" fill="#BFBFBF"/>
<path d="M270.38 162.64L273.58 166.14L270.38 169.64L267.18 166.14Z" fill="#BFBFBF"/>
<path d="M278.68 104.16L281.88 107.66L278.68 111.16L275.48 107.66Z" fill="#BFBFBF"/>
<path d="M286.99 193.6L290.19 197.1L286.99 200.6L283.79 197.1Z" fill="#BFBFBF"/>
<path d="M295.29 169.52L298.49 173.02L295.29 176.52L292.09 173.02Z" fill="#BFBFBF"/>
<path d="M303.59 97.28L306.79 100.78L303.59 104.28L300.39 100.78Z" fill="#BFBFBF"/>
<path d="M311.9 166.08L315.1 169.58L311.9 173.08L308.7 169.58Z" fill="#BFBFBF"/>
<path d="M320.2 159.2L323.4 162.7L320.2 166.2L317 162.7Z" fill="#BFBFBF"/>
<path d="M328.5 73.2L331.7 76.7L328.5 80.2L325.3 76.7Z" fill="#BFBFBF"/>
<path d="M336.81 148.88L340 152.38L336.81 155.88L333.61 152.38Z" fill="#BFBFBF"/>
<path d="M345.11 207.36L348.31 210.86L345.11 214.36L341.91 210.86Z" fill="#BFBFBF"/>
<path d="M353.41 203.92L356.61 207.42L353.41 210.92L350.21 207.42Z" fill="#BFBFBF"/>
<path d="M361.71 148.88L364.91 152.38L361.71 155.88L358.51 152.38Z" fill="#BFBFBF"/>
<path d="M370.02 159.2L373.22 162.7L370.02 166.2L366.82 162.7Z" fill="#BFBFBF"/>
<path d="M378.32 121.36L381.52 124.86L378.32 128.36L375.12 124.86Z" fill="#BFBFBF"/>
<path d="M386.62 104.16L389.82 107.66L386.62 111.16L383.42 107.66Z" fill="#BFBFBF"/>
<path d="M394.93 117.92L398.13 121.42L394.93 124.92L391.73 121.42Z" fill="#BFBFBF"/>
<path d="M403.23 183.28L406.43 186.78L403.23 190.28L400.03 186.78Z" fill="#BFBFBF"/>
<path d="M411.53 179.84L414.73 183.34L411.53 186.84L408.33 183.34Z" fill="#BFBFBF"/>
<path d="M419.84 83.52L423.04 87.02L419.84 90.52L416.64 87.02Z" fill="#BFBFBF"/>
<path d="M428.14 179.84L431.34 183.34L428.14 186.84L424.94 183.34Z" fill="#BFBFBF"/>
<path d="M436.44 183.28L439.64 186.78L436.44 190.28L433.24 186.78Z" fill="#BFBFBF"/>
<path d="M444.74 186.72L447.94 190.22L444.74 193.72L441.54 190.22Z" fill="#BFBFBF"/>
<path d="M453.05 183.28L456.25 186.78L453.05 190.28L449.85 186.78Z" fill="#BFBFBF"/>
<path d="M461.35 203.92L464.55 207.42L461.35 210.92L458.15 207.42Z" fill="#BFBFBF"/>
<rect x="402.5" y="12.5" width="89" height="48" fill="#fff" stroke="#000" stroke-width="1"/>
<rect x="12.5" y="12.5" width="480" height="288" fill="none" stroke="#868686" stroke-width="1"/>
<line x1="407" y1="24" x2="435" y2="24" stroke="#4A7EBB" stroke-width="2.0"/>
<circle cx="421" cy="24" r="2.8" fill="#4F81BD"/>
<line x1="407" y1="48" x2="435" y2="48" stroke="#BFBFBF" stroke-width="2.0"/>
<path d="M421 44.8L424.2 48L421 51.2L417.8 48Z" fill="#BFBFBF"/>
<text x="437" y="29" class="lg" textLength="49" lengthAdjust="spacingAndGlyphs">STA+NTA</text>
<text x="437" y="52.5" class="lg" textLength="21.5" lengthAdjust="spacingAndGlyphs">SPO</text>
<text x="200.9" y="37.9" class="tt" textLength="31.8" lengthAdjust="spacingAndGlyphs">2015</text>
<text x="232.6" y="37" class="tj" textLength="69.5" lengthAdjust="spacingAndGlyphs">年おうし群</text>
<text x="26.7" y="35.2" class="yb">[</text>
<text x="33.2" y="35.3" class="yu" textLength="39.2" lengthAdjust="spacingAndGlyphs">出現数</text>
<text x="71.3" y="35.2" class="yb">]</text>
<text x="21.2" y="63.9" class="ax" textLength="14" lengthAdjust="spacingAndGlyphs">50</text>
<text x="21.2" y="81.1" class="ax" textLength="14" lengthAdjust="spacingAndGlyphs">45</text>
<text x="21.2" y="98.3" class="ax" textLength="14" lengthAdjust="spacingAndGlyphs">40</text>
<text x="21.2" y="115.5" class="ax" textLength="14" lengthAdjust="spacingAndGlyphs">35</text>
<text x="21.2" y="132.7" class="ax" textLength="14" lengthAdjust="spacingAndGlyphs">30</text>
<text x="21.2" y="149.9" class="ax" textLength="14" lengthAdjust="spacingAndGlyphs">25</text>
<text x="21.2" y="167.1" class="ax" textLength="14" lengthAdjust="spacingAndGlyphs">20</text>
<text x="21.2" y="184.3" class="ax" textLength="14" lengthAdjust="spacingAndGlyphs">15</text>
<text x="21.2" y="201.5" class="ax" textLength="14" lengthAdjust="spacingAndGlyphs">10</text>
<text x="26.6" y="218.7" class="ax" textLength="7.2" lengthAdjust="spacingAndGlyphs">5</text>
<text x="26.6" y="235.9" class="ax" textLength="7.2" lengthAdjust="spacingAndGlyphs">0</text>
<text x="30.1" y="253.2" class="ax" textLength="32" lengthAdjust="spacingAndGlyphs">10/10</text>
<text x="113.3" y="253.2" class="ax" textLength="32" lengthAdjust="spacingAndGlyphs">10/20</text>
<text x="196.3" y="253.2" class="ax" textLength="32" lengthAdjust="spacingAndGlyphs">10/30</text>
<text x="283" y="253.2" class="ax" textLength="26.2" lengthAdjust="spacingAndGlyphs">11/9</text>
<text x="362.1" y="253.2" class="ax" textLength="31.6" lengthAdjust="spacingAndGlyphs">11/19</text>
<text x="445.3" y="253.2" class="ax" textLength="31.5" lengthAdjust="spacingAndGlyphs">11/29</text>
<text x="257.2" y="290.7" class="fn" textLength="9.4" lengthAdjust="spacingAndGlyphs">*)</text>
<text x="270.9" y="290.7" class="fn" textLength="28.4" lengthAdjust="spacingAndGlyphs">NASA</text>
<text x="303.7" y="290.7" class="fn" textLength="37.9" lengthAdjust="spacingAndGlyphs">all-sky</text>
<text x="343" y="290.7" class="fn" textLength="32.9" lengthAdjust="spacingAndGlyphs">fireall</text>
<text x="377.2" y="290.7" class="fn" textLength="44.5" lengthAdjust="spacingAndGlyphs">network</text>
<text x="422.6" y="290.8" class="fj" textLength="55" lengthAdjust="spacingAndGlyphs">データより</text>
</g>
<g transform="translate(504,306)">
<rect x="12.5" y="12.5" width="480" height="288" fill="#fff" stroke="#868686" stroke-width="1"/>
<line x1="88.5" y1="59" x2="88.5" y2="231" stroke="#B8B8B8" stroke-width="1" stroke-dasharray="4.5 2.5"/>
<line x1="170.5" y1="59" x2="170.5" y2="231" stroke="#B8B8B8" stroke-width="1" stroke-dasharray="4.5 2.5"/>
<line x1="253.5" y1="59" x2="253.5" y2="231" stroke="#B8B8B8" stroke-width="1" stroke-dasharray="4.5 2.5"/>
<line x1="336.5" y1="59" x2="336.5" y2="231" stroke="#B8B8B8" stroke-width="1" stroke-dasharray="4.5 2.5"/>
<line x1="419.5" y1="59" x2="419.5" y2="231" stroke="#B8B8B8" stroke-width="1" stroke-dasharray="4.5 2.5"/>
<line x1="46" y1="59.5" x2="462" y2="59.5" stroke="#868686" stroke-width="1" stroke-dasharray="4.5 2.5"/>
<line x1="46" y1="76.5" x2="462" y2="76.5" stroke="#868686" stroke-width="1" stroke-dasharray="4.5 2.5"/>
<line x1="46" y1="94.5" x2="462" y2="94.5" stroke="#868686" stroke-width="1" stroke-dasharray="4.5 2.5"/>
<line x1="46" y1="111.5" x2="462" y2="111.5" stroke="#868686" stroke-width="1" stroke-dasharray="4.5 2.5"/>
<line x1="46" y1="128.5" x2="462" y2="128.5" stroke="#868686" stroke-width="1" stroke-dasharray="4.5 2.5"/>
<line x1="46" y1="145.5" x2="462" y2="145.5" stroke="#868686" stroke-width="1" stroke-dasharray="4.5 2.5"/>
<line x1="46" y1="163.5" x2="462" y2="163.5" stroke="#868686" stroke-width="1" stroke-dasharray="4.5 2.5"/>
<line x1="46" y1="180.5" x2="462" y2="180.5" stroke="#868686" stroke-width="1" stroke-dasharray="4.5 2.5"/>
<line x1="46" y1="197.5" x2="462" y2="197.5" stroke="#868686" stroke-width="1" stroke-dasharray="4.5 2.5"/>
<line x1="46" y1="214.5" x2="462" y2="214.5" stroke="#868686" stroke-width="1" stroke-dasharray="4.5 2.5"/>
<line x1="129.5" y1="59" x2="129.5" y2="237" stroke="#868686" stroke-width="1"/>
<line x1="212.5" y1="59" x2="212.5" y2="237" stroke="#868686" stroke-width="1"/>
<line x1="295.5" y1="59" x2="295.5" y2="237" stroke="#868686" stroke-width="1"/>
<line x1="378.5" y1="59" x2="378.5" y2="237" stroke="#868686" stroke-width="1"/>
<line x1="461.5" y1="59" x2="461.5" y2="237" stroke="#868686" stroke-width="1"/>
<line x1="42" y1="59.5" x2="50" y2="59.5" stroke="#868686" stroke-width="1"/>
<line x1="42" y1="76.5" x2="50" y2="76.5" stroke="#868686" stroke-width="1"/>
<line x1="42" y1="94.5" x2="50" y2="94.5" stroke="#868686" stroke-width="1"/>
<line x1="42" y1="111.5" x2="50" y2="111.5" stroke="#868686" stroke-width="1"/>
<line x1="42" y1="128.5" x2="50" y2="128.5" stroke="#868686" stroke-width="1"/>
<line x1="42" y1="145.5" x2="50" y2="145.5" stroke="#868686" stroke-width="1"/>
<line x1="42" y1="163.5" x2="50" y2="163.5" stroke="#868686" stroke-width="1"/>
<line x1="42" y1="180.5" x2="50" y2="180.5" stroke="#868686" stroke-width="1"/>
<line x1="42" y1="197.5" x2="50" y2="197.5" stroke="#868686" stroke-width="1"/>
<line x1="42" y1="214.5" x2="50" y2="214.5" stroke="#868686" stroke-width="1"/>
<line x1="42" y1="231.5" x2="50" y2="231.5" stroke="#868686" stroke-width="1"/>
<line x1="42" y1="231.5" x2="462" y2="231.5" stroke="#868686" stroke-width="1"/>
<line x1="46.5" y1="59" x2="46.5" y2="237" stroke="#868686" stroke-width="1"/>
<g clip-path="url(#clip)">
<polyline points="45.8,221.63 54.1,225.07 62.41,228.51 70.71,228.51 79.01,228.51 87.31,225.07 95.62,228.51 103.92,228.51 112.22,225.07 120.53,228.51 128.83,228.51 137.13,231.95 145.44,231.95 153.74,228.51 162.04,231.95 170.35,218.19 178.65,218.19 186.95,221.63 195.25,228.51 203.56,228.51 211.86,221.63 220.16,221.63 228.47,204.43 236.77,228.51 245.07,221.63 261.68,218.19 269.98,221.63 278.28,204.43 286.59,204.43 294.89,211.31 303.19,218.19 311.5,218.19 319.8,231.95 344.71,204.43 353.01,225.07 361.31,225.07 369.62,214.75 377.92,225.07 386.22,218.19 402.83,218.19 427.74,231.95 460.95,231.95" fill="none" stroke="#4A7EBB" stroke-width="2.0" stroke-linejoin="round" stroke-linecap="round"/>
</g>
<circle cx="45.8" cy="221.18" r="3" fill="#4F81BD"/>
<circle cx="54.1" cy="224.62" r="3" fill="#4F81BD"/>
<circle cx="62.41" cy="228.06" r="3" fill="#4F81BD"/>
<circle cx="70.71" cy="228.06" r="3" fill="#4F81BD"/>
<circle cx="79.01" cy="228.06" r="3" fill="#4F81BD"/>
<circle cx="87.31" cy="224.62" r="3" fill="#4F81BD"/>
<circle cx="95.62" cy="228.06" r="3" fill="#4F81BD"/>
<circle cx="103.92" cy="228.06" r="3" fill="#4F81BD"/>
<circle cx="112.22" cy="224.62" r="3" fill="#4F81BD"/>
<circle cx="120.53" cy="228.06" r="3" fill="#4F81BD"/>
<circle cx="128.83" cy="228.06" r="3" fill="#4F81BD"/>
<circle cx="137.13" cy="231.5" r="3" fill="#4F81BD"/>
<circle cx="145.44" cy="231.5" r="3" fill="#4F81BD"/>
<circle cx="153.74" cy="228.06" r="3" fill="#4F81BD"/>
<circle cx="162.04" cy="231.5" r="3" fill="#4F81BD"/>
<circle cx="170.35" cy="217.74" r="3" fill="#4F81BD"/>
<circle cx="178.65" cy="217.74" r="3" fill="#4F81BD"/>
<circle cx="186.95" cy="221.18" r="3" fill="#4F81BD"/>
<circle cx="195.25" cy="228.06" r="3" fill="#4F81BD"/>
<circle cx="203.56" cy="228.06" r="3" fill="#4F81BD"/>
<circle cx="211.86" cy="221.18" r="3" fill="#4F81BD"/>
<circle cx="220.16" cy="221.18" r="3" fill="#4F81BD"/>
<circle cx="228.47" cy="203.98" r="3" fill="#4F81BD"/>
<circle cx="236.77" cy="228.06" r="3" fill="#4F81BD"/>
<circle cx="245.07" cy="221.18" r="3" fill="#4F81BD"/>
<circle cx="261.68" cy="217.74" r="3" fill="#4F81BD"/>
<circle cx="269.98" cy="221.18" r="3" fill="#4F81BD"/>
<circle cx="278.28" cy="203.98" r="3" fill="#4F81BD"/>
<circle cx="286.59" cy="203.98" r="3" fill="#4F81BD"/>
<circle cx="294.89" cy="210.86" r="3" fill="#4F81BD"/>
<circle cx="303.19" cy="217.74" r="3" fill="#4F81BD"/>
<circle cx="311.5" cy="217.74" r="3" fill="#4F81BD"/>
<circle cx="319.8" cy="231.5" r="3" fill="#4F81BD"/>
<circle cx="344.71" cy="203.98" r="3" fill="#4F81BD"/>
<circle cx="353.01" cy="224.62" r="3" fill="#4F81BD"/>
<circle cx="361.31" cy="224.62" r="3" fill="#4F81BD"/>
<circle cx="369.62" cy="214.3" r="3" fill="#4F81BD"/>
<circle cx="377.92" cy="224.62" r="3" fill="#4F81BD"/>
<circle cx="386.22" cy="217.74" r="3" fill="#4F81BD"/>
<circle cx="402.83" cy="217.74" r="3" fill="#4F81BD"/>
<circle cx="427.74" cy="231.5" r="3" fill="#4F81BD"/>
<g clip-path="url(#clip)">
<polyline points="45.8,156.27 54.1,145.95 62.41,70.27 70.71,166.59 79.01,176.91 87.31,173.47 95.62,225.07 103.92,200.99 112.22,87.47 120.53,101.23 128.83,128.75 137.13,145.95 145.44,121.87 153.74,156.27 162.04,170.03 170.35,42.75 178.65,156.27 186.95,183.79 195.25,176.91 203.56,125.31 211.86,180.35 220.16,207.87 228.47,145.95 236.77,190.67 245.07,-43.25 261.68,159.71 269.98,183.79 278.28,163.15 286.59,111.55 294.89,200.99 303.19,176.91 311.5,139.07 319.8,187.23 344.71,49.63 353.01,183.79 361.31,149.39 369.62,101.23 377.92,118.43 386.22,176.91 402.83,84.03 427.74,145.95 460.95,137.35" fill="none" stroke="#BFBFBF" stroke-width="2.0" stroke-linejoin="round" stroke-linecap="round"/>
</g>
<path d="M46.2 152.32L49.4 155.82L46.2 159.32L43 155.82Z" fill="#BFBFBF"/>
<path d="M54.5 142L57.7 145.5L54.5 149L51.3 145.5Z" fill="#BFBFBF"/>
<path d="M62.81 66.32L66.01 69.82L62.81 73.32L59.61 69.82Z" fill="#BFBFBF"/>
<path d="M71.11 162.64L74.31 166.14L71.11 169.64L67.91 166.14Z" fill="#BFBFBF"/>
<path d="M79.41 172.96L82.61 176.46L79.41 179.96L76.21 176.46Z" fill="#BFBFBF"/>
<path d="M87.72 169.52L90.92 173.02L87.72 176.52L84.52 173.02Z" fill="#BFBFBF"/>
<path d="M96.02 221.12L99.22 224.62L96.02 228.12L92.82 224.62Z" fill="#BFBFBF"/>
<path d="M104.32 197.04L107.52 200.54L104.32 204.04L101.12 200.54Z" fill="#BFBFBF"/>
<path d="M112.62 83.52L115.82 87.02L112.62 90.52L109.42 87.02Z" fill="#BFBFBF"/>
<path d="M120.93 97.28L124.13 100.78L120.93 104.28L117.73 100.78Z" fill="#BFBFBF"/>
<path d="M129.23 124.8L132.43 128.3L129.23 131.8L126.03 128.3Z" fill="#BFBFBF"/>
<path d="M137.53 142L140.73 145.5L137.53 149L134.33 145.5Z" fill="#BFBFBF"/>
<path d="M145.84 117.92L149.04 121.42L145.84 124.92L142.64 121.42Z" fill="#BFBFBF"/>
<path d="M154.14 152.32L157.34 155.82L154.14 159.32L150.94 155.82Z" fill="#BFBFBF"/>
<path d="M162.44 166.08L165.64 169.58L162.44 173.08L159.24 169.58Z" fill="#BFBFBF"/>
<path d="M179.05 152.32L182.25 155.82L179.05 159.32L175.85 155.82Z" fill="#BFBFBF"/>
<path d="M187.35 179.84L190.55 183.34L187.35 186.84L184.15 183.34Z" fill="#BFBFBF"/>
<path d="M195.65 172.96L198.85 176.46L195.65 179.96L192.45 176.46Z" fill="#BFBFBF"/>
<path d="M203.96 121.36L207.16 124.86L203.96 128.36L200.76 124.86Z" fill="#BFBFBF"/>
<path d="M212.26 176.4L215.46 179.9L212.26 183.4L209.06 179.9Z" fill="#BFBFBF"/>
<path d="M220.56 203.92L223.76 207.42L220.56 210.92L217.36 207.42Z" fill="#BFBFBF"/>
<path d="M228.87 142L232.07 145.5L228.87 149L225.67 145.5Z" fill="#BFBFBF"/>
<path d="M237.17 186.72L240.37 190.22L237.17 193.72L233.97 190.22Z" fill="#BFBFBF"/>
<path d="M262.08 155.76L265.28 159.26L262.08 162.76L258.88 159.26Z" fill="#BFBFBF"/>
<path d="M270.38 179.84L273.58 183.34L270.38 186.84L267.18 183.34Z" fill="#BFBFBF"/>
<path d="M278.68 159.2L281.88 162.7L278.68 166.2L275.48 162.7Z" fill="#BFBFBF"/>
<path d="M286.99 107.6L290.19 111.1L286.99 114.6L283.79 111.1Z" fill="#BFBFBF"/>
<path d="M295.29 197.04L298.49 200.54L295.29 204.04L292.09 200.54Z" fill="#BFBFBF"/>
<path d="M303.59 172.96L306.79 176.46L303.59 179.96L300.39 176.46Z" fill="#BFBFBF"/>
<path d="M311.9 135.12L315.1 138.62L311.9 142.12L308.7 138.62Z" fill="#BFBFBF"/>
<path d="M320.2 183.28L323.4 186.78L320.2 190.28L317 186.78Z" fill="#BFBFBF"/>
<path d="M353.41 179.84L356.61 183.34L353.41 186.84L350.21 183.34Z" fill="#BFBFBF"/>
<path d="M361.71 145.44L364.91 148.94L361.71 152.44L358.51 148.94Z" fill="#BFBFBF"/>
<path d="M370.02 97.28L373.22 100.78L370.02 104.28L366.82 100.78Z" fill="#BFBFBF"/>
<path d="M378.32 114.48L381.52 117.98L378.32 121.48L375.12 117.98Z" fill="#BFBFBF"/>
<path d="M386.62 172.96L389.82 176.46L386.62 179.96L383.42 176.46Z" fill="#BFBFBF"/>
<path d="M403.23 80.08L406.43 83.58L403.23 87.08L400.03 83.58Z" fill="#BFBFBF"/>
<path d="M428.14 142L431.34 145.5L428.14 149L424.94 145.5Z" fill="#BFBFBF"/>
<rect x="402.5" y="12.5" width="89" height="48" fill="#fff" stroke="#000" stroke-width="1"/>
<rect x="12.5" y="12.5" width="480" height="288" fill="none" stroke="#868686" stroke-width="1"/>
<line x1="407" y1="24" x2="435" y2="24" stroke="#4A7EBB" stroke-width="2.0"/>
<circle cx="421" cy="24" r="2.8" fill="#4F81BD"/>
<line x1="407" y1="48" x2="435" y2="48" stroke="#BFBFBF" stroke-width="2.0"/>
<path d="M421 44.8L424.2 48L421 51.2L417.8 48Z" fill="#BFBFBF"/>
<text x="437" y="29" class="lg" textLength="49" lengthAdjust="spacingAndGlyphs">STA+NTA</text>
<text x="437" y="52.5" class="lg" textLength="21.5" lengthAdjust="spacingAndGlyphs">SPO</text>
<text x="200.9" y="37.9" class="tt" textLength="31.8" lengthAdjust="spacingAndGlyphs">2016</text>
<text x="232.6" y="37" class="tj" textLength="69.5" lengthAdjust="spacingAndGlyphs">年おうし群</text>
<text x="26.7" y="35.2" class="yb">[</text>
<text x="33.2" y="35.3" class="yu" textLength="39.2" lengthAdjust="spacingAndGlyphs">出現数</text>
<text x="71.3" y="35.2" class="yb">]</text>
<text x="21.2" y="63.9" class="ax" textLength="14" lengthAdjust="spacingAndGlyphs">50</text>
<text x="21.2" y="81.1" class="ax" textLength="14" lengthAdjust="spacingAndGlyphs">45</text>
<text x="21.2" y="98.3" class="ax" textLength="14" lengthAdjust="spacingAndGlyphs">40</text>
<text x="21.2" y="115.5" class="ax" textLength="14" lengthAdjust="spacingAndGlyphs">35</text>
<text x="21.2" y="132.7" class="ax" textLength="14" lengthAdjust="spacingAndGlyphs">30</text>
<text x="21.2" y="149.9" class="ax" textLength="14" lengthAdjust="spacingAndGlyphs">25</text>
<text x="21.2" y="167.1" class="ax" textLength="14" lengthAdjust="spacingAndGlyphs">20</text>
<text x="21.2" y="184.3" class="ax" textLength="14" lengthAdjust="spacingAndGlyphs">15</text>
<text x="21.2" y="201.5" class="ax" textLength="14" lengthAdjust="spacingAndGlyphs">10</text>
<text x="26.6" y="218.7" class="ax" textLength="7.2" lengthAdjust="spacingAndGlyphs">5</text>
<text x="26.6" y="235.9" class="ax" textLength="7.2" lengthAdjust="spacingAndGlyphs">0</text>
<text x="30.1" y="253.2" class="ax" textLength="32" lengthAdjust="spacingAndGlyphs">10/10</text>
<text x="113.3" y="253.2" class="ax" textLength="32" lengthAdjust="spacingAndGlyphs">10/20</text>
<text x="196.3" y="253.2" class="ax" textLength="32" lengthAdjust="spacingAndGlyphs">10/30</text>
<text x="283" y="253.2" class="ax" textLength="26.2" lengthAdjust="spacingAndGlyphs">11/9</text>
<text x="362.1" y="253.2" class="ax" textLength="31.6" lengthAdjust="spacingAndGlyphs">11/19</text>
<text x="445.3" y="253.2" class="ax" textLength="31.5" lengthAdjust="spacingAndGlyphs">11/29</text>
<text x="257.2" y="290.7" class="fn" textLength="9.4" lengthAdjust="spacingAndGlyphs">*)</text>
<text x="270.9" y="290.7" class="fn" textLength="28.4" lengthAdjust="spacingAndGlyphs">NASA</text>
<text x="303.7" y="290.7" class="fn" textLength="37.9" lengthAdjust="spacingAndGlyphs">all-sky</text>
<text x="343" y="290.7" class="fn" textLength="32.9" lengthAdjust="spacingAndGlyphs">fireall</text>
<text x="377.2" y="290.7" class="fn" textLength="44.5" lengthAdjust="spacingAndGlyphs">network</text>
<text x="422.6" y="290.8" class="fj" textLength="55" lengthAdjust="spacingAndGlyphs">データより</text>
</g>
<g transform="translate(0,612)">
<rect x="12.5" y="12.5" width="480" height="288" fill="#fff" stroke="#868686" stroke-width="1"/>
<line x1="88.5" y1="59" x2="88.5" y2="231" stroke="#B8B8B8" stroke-width="1" stroke-dasharray="4.5 2.5"/>
<line x1="170.5" y1="59" x2="170.5" y2="231" stroke="#B8B8B8" stroke-width="1" stroke-dasharray="4.5 2.5"/>
<line x1="253.5" y1="59" x2="253.5" y2="231" stroke="#B8B8B8" stroke-width="1" stroke-dasharray="4.5 2.5"/>
<line x1="336.5" y1="59" x2="336.5" y2="231" stroke="#B8B8B8" stroke-width="1" stroke-dasharray="4.5 2.5"/>
<line x1="419.5" y1="59" x2="419.5" y2="231" stroke="#B8B8B8" stroke-width="1" stroke-dasharray="4.5 2.5"/>
<line x1="46" y1="59.5" x2="462" y2="59.5" stroke="#868686" stroke-width="1" stroke-dasharray="4.5 2.5"/>
<line x1="46" y1="76.5" x2="462" y2="76.5" stroke="#868686" stroke-width="1" stroke-dasharray="4.5 2.5"/>
<line x1="46" y1="94.5" x2="462" y2="94.5" stroke="#868686" stroke-width="1" stroke-dasharray="4.5 2.5"/>
<line x1="46" y1="111.5" x2="462" y2="111.5" stroke="#868686" stroke-width="1" stroke-dasharray="4.5 2.5"/>
<line x1="46" y1="128.5" x2="462" y2="128.5" stroke="#868686" stroke-width="1" stroke-dasharray="4.5 2.5"/>
<line x1="46" y1="145.5" x2="462" y2="145.5" stroke="#868686" stroke-width="1" stroke-dasharray="4.5 2.5"/>
<line x1="46" y1="163.5" x2="462" y2="163.5" stroke="#868686" stroke-width="1" stroke-dasharray="4.5 2.5"/>
<line x1="46" y1="180.5" x2="462" y2="180.5" stroke="#868686" stroke-width="1" stroke-dasharray="4.5 2.5"/>
<line x1="46" y1="197.5" x2="462" y2="197.5" stroke="#868686" stroke-width="1" stroke-dasharray="4.5 2.5"/>
<line x1="46" y1="214.5" x2="462" y2="214.5" stroke="#868686" stroke-width="1" stroke-dasharray="4.5 2.5"/>
<line x1="129.5" y1="59" x2="129.5" y2="237" stroke="#868686" stroke-width="1"/>
<line x1="212.5" y1="59" x2="212.5" y2="237" stroke="#868686" stroke-width="1"/>
<line x1="295.5" y1="59" x2="295.5" y2="237" stroke="#868686" stroke-width="1"/>
<line x1="378.5" y1="59" x2="378.5" y2="237" stroke="#868686" stroke-width="1"/>
<line x1="461.5" y1="59" x2="461.5" y2="237" stroke="#868686" stroke-width="1"/>
<line x1="42" y1="59.5" x2="50" y2="59.5" stroke="#868686" stroke-width="1"/>
<line x1="42" y1="76.5" x2="50" y2="76.5" stroke="#868686" stroke-width="1"/>
<line x1="42" y1="94.5" x2="50" y2="94.5" stroke="#868686" stroke-width="1"/>
<line x1="42" y1="111.5" x2="50" y2="111.5" stroke="#868686" stroke-width="1"/>
<line x1="42" y1="128.5" x2="50" y2="128.5" stroke="#868686" stroke-width="1"/>
<line x1="42" y1="145.5" x2="50" y2="145.5" stroke="#868686" stroke-width="1"/>
<line x1="42" y1="163.5" x2="50" y2="163.5" stroke="#868686" stroke-width="1"/>
<line x1="42" y1="180.5" x2="50" y2="180.5" stroke="#868686" stroke-width="1"/>
<line x1="42" y1="197.5" x2="50" y2="197.5" stroke="#868686" stroke-width="1"/>
<line x1="42" y1="214.5" x2="50" y2="214.5" stroke="#868686" stroke-width="1"/>
<line x1="42" y1="231.5" x2="50" y2="231.5" stroke="#868686" stroke-width="1"/>
<line x1="42" y1="231.5" x2="462" y2="231.5" stroke="#868686" stroke-width="1"/>
<line x1="46.5" y1="59" x2="46.5" y2="237" stroke="#868686" stroke-width="1"/>
<g clip-path="url(#clip)">
<polyline points="45.8,228.51 54.1,228.51 62.41,228.51 70.71,221.63 79.01,228.51 87.31,228.51 95.62,228.51 103.92,218.19 112.22,218.19 128.83,228.51 137.13,228.51 145.44,228.51 153.74,225.07 162.04,221.63 170.35,231.95 178.65,228.51 186.95,221.63 195.25,218.19 203.56,231.95 211.86,225.07 220.16,211.31 228.47,231.95 236.77,228.51 245.07,225.07 253.38,231.95 261.68,231.95 269.98,221.63 278.28,218.19 286.59,228.51 294.89,225.07 303.19,221.63 311.5,221.63 319.8,228.51 328.1,218.19 336.41,218.19 344.71,214.75 353.01,218.19 361.31,211.31 369.62,214.75 377.92,225.07 386.22,214.75 394.53,204.43 402.83,211.31 411.13,218.19 419.44,231.95 427.74,231.95 436.04,231.95 444.34,231.95 452.65,231.95 460.95,231.95" fill="none" stroke="#4A7EBB" stroke-width="2.0" stroke-linejoin="round" stroke-linecap="round"/>
</g>
<circle cx="45.8" cy="228.06" r="3" fill="#4F81BD"/>
<circle cx="54.1" cy="228.06" r="3" fill="#4F81BD"/>
<circle cx="62.41" cy="228.06" r="3" fill="#4F81BD"/>
<circle cx="70.71" cy="221.18" r="3" fill="#4F81BD"/>
<circle cx="79.01" cy="228.06" r="3" fill="#4F81BD"/>
<circle cx="87.31" cy="228.06" r="3" fill="#4F81BD"/>
<circle cx="95.62" cy="228.06" r="3" fill="#4F81BD"/>
<circle cx="103.92" cy="217.74" r="3" fill="#4F81BD"/>
<circle cx="112.22" cy="217.74" r="3" fill="#4F81BD"/>
<circle cx="128.83" cy="228.06" r="3" fill="#4F81BD"/>
<circle cx="137.13" cy="228.06" r="3" fill="#4F81BD"/>
<circle cx="145.44" cy="228.06" r="3" fill="#4F81BD"/>
<circle cx="153.74" cy="224.62" r="3" fill="#4F81BD"/>
<circle cx="162.04" cy="221.18" r="3" fill="#4F81BD"/>
<circle cx="170.35" cy="231.5" r="3" fill="#4F81BD"/>
<circle cx="178.65" cy="228.06" r="3" fill="#4F81BD"/>
<circle cx="186.95" cy="221.18" r="3" fill="#4F81BD"/>
<circle cx="195.25" cy="217.74" r="3" fill="#4F81BD"/>
<circle cx="203.56" cy="231.5" r="3" fill="#4F81BD"/>
<circle cx="211.86" cy="224.62" r="3" fill="#4F81BD"/>
<circle cx="220.16" cy="210.86" r="3" fill="#4F81BD"/>
<circle cx="228.47" cy="231.5" r="3" fill="#4F81BD"/>
<circle cx="236.77" cy="228.06" r="3" fill="#4F81BD"/>
<circle cx="245.07" cy="224.62" r="3" fill="#4F81BD"/>
<circle cx="253.38" cy="231.5" r="3" fill="#4F81BD"/>
<circle cx="261.68" cy="231.5" r="3" fill="#4F81BD"/>
<circle cx="269.98" cy="221.18" r="3" fill="#4F81BD"/>
<circle cx="278.28" cy="217.74" r="3" fill="#4F81BD"/>
<circle cx="286.59" cy="228.06" r="3" fill="#4F81BD"/>
<circle cx="294.89" cy="224.62" r="3" fill="#4F81BD"/>
<circle cx="303.19" cy="221.18" r="3" fill="#4F81BD"/>
<circle cx="311.5" cy="221.18" r="3" fill="#4F81BD"/>
<circle cx="319.8" cy="228.06" r="3" fill="#4F81BD"/>
<circle cx="328.1" cy="217.74" r="3" fill="#4F81BD"/>
<circle cx="336.41" cy="217.74" r="3" fill="#4F81BD"/>
<circle cx="344.71" cy="214.3" r="3" fill="#4F81BD"/>
<circle cx="353.01" cy="217.74" r="3" fill="#4F81BD"/>
<circle cx="361.31" cy="210.86" r="3" fill="#4F81BD"/>
<circle cx="369.62" cy="214.3" r="3" fill="#4F81BD"/>
<circle cx="377.92" cy="224.62" r="3" fill="#4F81BD"/>
<circle cx="386.22" cy="214.3" r="3" fill="#4F81BD"/>
<circle cx="394.53" cy="203.98" r="3" fill="#4F81BD"/>
<circle cx="402.83" cy="210.86" r="3" fill="#4F81BD"/>
<circle cx="411.13" cy="217.74" r="3" fill="#4F81BD"/>
<circle cx="419.44" cy="231.5" r="3" fill="#4F81BD"/>
<circle cx="427.74" cy="231.5" r="3" fill="#4F81BD"/>
<circle cx="436.04" cy="231.5" r="3" fill="#4F81BD"/>
<circle cx="444.34" cy="231.5" r="3" fill="#4F81BD"/>
<circle cx="452.65" cy="231.5" r="3" fill="#4F81BD"/>
<circle cx="460.95" cy="231.5" r="3" fill="#4F81BD"/>
<g clip-path="url(#clip)">
<polyline points="45.8,211.31 54.1,111.55 62.41,180.35 70.71,170.03 79.01,180.35 87.31,170.03 95.62,190.67 103.92,128.75 112.22,97.79 128.83,42.75 137.13,63.39 145.44,108.11 153.74,159.71 162.04,-26.05 170.35,114.99 178.65,97.79 186.95,125.31 195.25,114.99 203.56,204.43 211.86,142.51 220.16,-50.13 228.47,128.75 236.77,194.11 245.07,200.99 253.38,200.99 261.68,200.99 269.98,187.23 278.28,187.23 286.59,176.91 294.89,204.43 303.19,180.35 311.5,156.27 319.8,197.55 328.1,204.43 336.41,111.55 344.71,149.39 353.01,152.83 361.31,114.99 369.62,118.43 377.92,159.71 386.22,142.51 394.53,94.35 402.83,156.27 411.13,166.59 419.44,142.51 427.74,170.03 436.04,145.95 444.34,135.63 452.65,-22.61 460.95,-8.85" fill="none" stroke="#BFBFBF" stroke-width="2.0" stroke-linejoin="round" stroke-linecap="round"/>
</g>
<path d="M46.2 207.36L49.4 210.86L46.2 214.36L43 210.86Z" fill="#BFBFBF"/>
<path d="M54.5 107.6L57.7 111.1L54.5 114.6L51.3 111.1Z" fill="#BFBFBF"/>
<path d="M62.81 176.4L66.01 179.9L62.81 183.4L59.61 179.9Z" fill="#BFBFBF"/>
<path d="M71.11 166.08L74.31 169.58L71.11 173.08L67.91 169.58Z" fill="#BFBFBF"/>
<path d="M79.41 176.4L82.61 179.9L79.41 183.4L76.21 179.9Z" fill="#BFBFBF"/>
<path d="M87.72 166.08L90.92 169.58L87.72 173.08L84.52 169.58Z" fill="#BFBFBF"/>
<path d="M96.02 186.72L99.22 190.22L96.02 193.72L92.82 190.22Z" fill="#BFBFBF"/>
<path d="M104.32 124.8L107.52 128.3L104.32 131.8L101.12 128.3Z" fill="#BFBFBF"/>
<path d="M112.62 93.84L115.82 97.34L112.62 100.84L109.42 97.34Z" fill="#BFBFBF"/>
<path d="M137.53 59.44L140.73 62.94L137.53 66.44L134.33 62.94Z" fill="#BFBFBF"/>
<path d="M145.84 104.16L149.04 107.66L145.84 111.16L142.64 107.66Z" fill="#BFBFBF"/>
<path d="M154.14 155.76L157.34 159.26L154.14 162.76L150.94 159.26Z" fill="#BFBFBF"/>
<path d="M170.75 111.04L173.95 114.54L170.75 118.04L167.55 114.54Z" fill="#BFBFBF"/>
<path d="M179.05 93.84L182.25 97.34L179.05 100.84L175.85 97.34Z" fill="#BFBFBF"/>
<path d="M187.35 121.36L190.55 124.86L187.35 128.36L184.15 124.86Z" fill="#BFBFBF"/>
<path d="M195.65 111.04L198.85 114.54L195.65 118.04L192.45 114.54Z" fill="#BFBFBF"/>
<path d="M203.96 200.48L207.16 203.98L203.96 207.48L200.76 203.98Z" fill="#BFBFBF"/>
<path d="M212.26 138.56L215.46 142.06L212.26 145.56L209.06 142.06Z" fill="#BFBFBF"/>
<path d="M228.87 124.8L232.07 128.3L228.87 131.8L225.67 128.3Z" fill="#BFBFBF"/>
<path d="M237.17 190.16L240.37 193.66L237.17 197.16L233.97 193.66Z" fill="#BFBFBF"/>
<path d="M245.47 197.04L248.67 200.54L245.47 204.04L242.27 200.54Z" fill="#BFBFBF"/>
<path d="M253.78 197.04L256.98 200.54L253.78 204.04L250.58 200.54Z" fill="#BFBFBF"/>
<path d="M262.08 197.04L265.28 200.54L262.08 204.04L258.88 200.54Z" fill="#BFBFBF"/>
<path d="M270.38 183.28L273.58 186.78L270.38 190.28L267.18 186.78Z" fill="#BFBFBF"/>
<path d="M278.68 183.28L281.88 186.78L278.68 190.28L275.48 186.78Z" fill="#BFBFBF"/>
<path d="M286.99 172.96L290.19 176.46L286.99 179.96L283.79 176.46Z" fill="#BFBFBF"/>
<path d="M295.29 200.48L298.49 203.98L295.29 207.48L292.09 203.98Z" fill="#BFBFBF"/>
<path d="M303.59 176.4L306.79 179.9L303.59 183.4L300.39 179.9Z" fill="#BFBFBF"/>
<path d="M311.9 152.32L315.1 155.82L311.9 159.32L308.7 155.82Z" fill="#BFBFBF"/>
<path d="M320.2 193.6L323.4 197.1L320.2 200.6L317 197.1Z" fill="#BFBFBF"/>
<path d="M328.5 200.48L331.7 203.98L328.5 207.48L325.3 203.98Z" fill="#BFBFBF"/>
<path d="M336.81 107.6L340 111.1L336.81 114.6L333.61 111.1Z" fill="#BFBFBF"/>
<path d="M345.11 145.44L348.31 148.94L345.11 152.44L341.91 148.94Z" fill="#BFBFBF"/>
<path d="M353.41 148.88L356.61 152.38L353.41 155.88L350.21 152.38Z" fill="#BFBFBF"/>
<path d="M361.71 111.04L364.91 114.54L361.71 118.04L358.51 114.54Z" fill="#BFBFBF"/>
<path d="M370.02 114.48L373.22 117.98L370.02 121.48L366.82 117.98Z" fill="#BFBFBF"/>
<path d="M378.32 155.76L381.52 159.26L378.32 162.76L375.12 159.26Z" fill="#BFBFBF"/>
<path d="M386.62 138.56L389.82 142.06L386.62 145.56L383.42 142.06Z" fill="#BFBFBF"/>
<path d="M394.93 90.4L398.13 93.9L394.93 97.4L391.73 93.9Z" fill="#BFBFBF"/>
<path d="M403.23 152.32L406.43 155.82L403.23 159.32L400.03 155.82Z" fill="#BFBFBF"/>
<path d="M411.53 162.64L414.73 166.14L411.53 169.64L408.33 166.14Z" fill="#BFBFBF"/>
<path d="M419.84 138.56L423.04 142.06L419.84 145.56L416.64 142.06Z" fill="#BFBFBF"/>
<path d="M428.14 166.08L431.34 169.58L428.14 173.08L424.94 169.58Z" fill="#BFBFBF"/>
<path d="M436.44 142L439.64 145.5L436.44 149L433.24 145.5Z" fill="#BFBFBF"/>
<path d="M444.74 131.68L447.94 135.18L444.74 138.68L441.54 135.18Z" fill="#BFBFBF"/>
<rect x="402.5" y="12.5" width="89" height="48" fill="#fff" stroke="#000" stroke-width="1"/>
<rect x="12.5" y="12.5" width="480" height="288" fill="none" stroke="#868686" stroke-width="1"/>
<line x1="407" y1="24" x2="435" y2="24" stroke="#4A7EBB" stroke-width="2.0"/>
<circle cx="421" cy="24" r="2.8" fill="#4F81BD"/>
<line x1="407" y1="48" x2="435" y2="48" stroke="#BFBFBF" stroke-width="2.0"/>
<path d="M421 44.8L424.2 48L421 51.2L417.8 48Z" fill="#BFBFBF"/>
<text x="437" y="29" class="lg" textLength="49" lengthAdjust="spacingAndGlyphs">STA+NTA</text>
<text x="437" y="52.5" class="lg" textLength="21.5" lengthAdjust="spacingAndGlyphs">SPO</text>
<text x="200.9" y="37.9" class="tt" textLength="31.8" lengthAdjust="spacingAndGlyphs">2017</text>
<text x="232.6" y="37" class="tj" textLength="69.5" lengthAdjust="spacingAndGlyphs">年おうし群</text>
<text x="26.7" y="35.2" class="yb">[</text>
<text x="33.2" y="35.3" class="yu" textLength="39.2" lengthAdjust="spacingAndGlyphs">出現数</text>
<text x="71.3" y="35.2" class="yb">]</text>
<text x="21.2" y="63.9" class="ax" textLength="14" lengthAdjust="spacingAndGlyphs">50</text>
<text x="21.2" y="81.1" class="ax" textLength="14" lengthAdjust="spacingAndGlyphs">45</text>
<text x="21.2" y="98.3" class="ax" textLength="14" lengthAdjust="spacingAndGlyphs">40</text>
<text x="21.2" y="115.5" class="ax" textLength="14" lengthAdjust="spacingAndGlyphs">35</text>
<text x="21.2" y="132.7" class="ax" textLength="14" lengthAdjust="spacingAndGlyphs">30</text>
<text x="21.2" y="149.9" class="ax" textLength="14" lengthAdjust="spacingAndGlyphs">25</text>
<text x="21.2" y="167.1" class="ax" textLength="14" lengthAdjust="spacingAndGlyphs">20</text>
<text x="21.2" y="184.3" class="ax" textLength="14" lengthAdjust="spacingAndGlyphs">15</text>
<text x="21.2" y="201.5" class="ax" textLength="14" lengthAdjust="spacingAndGlyphs">10</text>
<text x="26.6" y="218.7" class="ax" textLength="7.2" lengthAdjust="spacingAndGlyphs">5</text>
<text x="26.6" y="235.9" class="ax" textLength="7.2" lengthAdjust="spacingAndGlyphs">0</text>
<text x="30.1" y="253.2" class="ax" textLength="32" lengthAdjust="spacingAndGlyphs">10/10</text>
<text x="113.3" y="253.2" class="ax" textLength="32" lengthAdjust="spacingAndGlyphs">10/20</text>
<text x="196.3" y="253.2" class="ax" textLength="32" lengthAdjust="spacingAndGlyphs">10/30</text>
<text x="283" y="253.2" class="ax" textLength="26.2" lengthAdjust="spacingAndGlyphs">11/9</text>
<text x="362.1" y="253.2" class="ax" textLength="31.6" lengthAdjust="spacingAndGlyphs">11/19</text>
<text x="445.3" y="253.2" class="ax" textLength="31.5" lengthAdjust="spacingAndGlyphs">11/29</text>
<text x="257.2" y="290.7" class="fn" textLength="9.4" lengthAdjust="spacingAndGlyphs">*)</text>
<text x="270.9" y="290.7" class="fn" textLength="28.4" lengthAdjust="spacingAndGlyphs">NASA</text>
<text x="303.7" y="290.7" class="fn" textLength="37.9" lengthAdjust="spacingAndGlyphs">all-sky</text>
<text x="343" y="290.7" class="fn" textLength="32.9" lengthAdjust="spacingAndGlyphs">fireall</text>
<text x="377.2" y="290.7" class="fn" textLength="44.5" lengthAdjust="spacingAndGlyphs">network</text>
<text x="422.6" y="290.8" class="fj" textLength="55" lengthAdjust="spacingAndGlyphs">データより</text>
</g>
<g transform="translate(504,612)">
<rect x="12.5" y="12.5" width="480" height="288" fill="#fff" stroke="#868686" stroke-width="1"/>
<line x1="88.5" y1="59" x2="88.5" y2="231" stroke="#B8B8B8" stroke-width="1" stroke-dasharray="4.5 2.5"/>
<line x1="170.5" y1="59" x2="170.5" y2="231" stroke="#B8B8B8" stroke-width="1" stroke-dasharray="4.5 2.5"/>
<line x1="253.5" y1="59" x2="253.5" y2="231" stroke="#B8B8B8" stroke-width="1" stroke-dasharray="4.5 2.5"/>
<line x1="336.5" y1="59" x2="336.5" y2="231" stroke="#B8B8B8" stroke-width="1" stroke-dasharray="4.5 2.5"/>
<line x1="419.5" y1="59" x2="419.5" y2="231" stroke="#B8B8B8" stroke-width="1" stroke-dasharray="4.5 2.5"/>
<line x1="46" y1="59.5" x2="462" y2="59.5" stroke="#868686" stroke-width="1" stroke-dasharray="4.5 2.5"/>
<line x1="46" y1="76.5" x2="462" y2="76.5" stroke="#868686" stroke-width="1" stroke-dasharray="4.5 2.5"/>
<line x1="46" y1="94.5" x2="462" y2="94.5" stroke="#868686" stroke-width="1" stroke-dasharray="4.5 2.5"/>
<line x1="46" y1="111.5" x2="462" y2="111.5" stroke="#868686" stroke-width="1" stroke-dasharray="4.5 2.5"/>
<line x1="46" y1="128.5" x2="462" y2="128.5" stroke="#868686" stroke-width="1" stroke-dasharray="4.5 2.5"/>
<line x1="46" y1="145.5" x2="462" y2="145.5" stroke="#868686" stroke-width="1" stroke-dasharray="4.5 2.5"/>
<line x1="46" y1="163.5" x2="462" y2="163.5" stroke="#868686" stroke-width="1" stroke-dasharray="4.5 2.5"/>
<line x1="46" y1="180.5" x2="462" y2="180.5" stroke="#868686" stroke-width="1" stroke-dasharray="4.5 2.5"/>
<line x1="46" y1="197.5" x2="462" y2="197.5" stroke="#868686" stroke-width="1" stroke-dasharray="4.5 2.5"/>
<line x1="46" y1="214.5" x2="462" y2="214.5" stroke="#868686" stroke-width="1" stroke-dasharray="4.5 2.5"/>
<line x1="129.5" y1="59" x2="129.5" y2="237" stroke="#868686" stroke-width="1"/>
<line x1="212.5" y1="59" x2="212.5" y2="237" stroke="#868686" stroke-width="1"/>
<line x1="295.5" y1="59" x2="295.5" y2="237" stroke="#868686" stroke-width="1"/>
<line x1="378.5" y1="59" x2="378.5" y2="237" stroke="#868686" stroke-width="1"/>
<line x1="461.5" y1="59" x2="461.5" y2="237" stroke="#868686" stroke-width="1"/>
<line x1="42" y1="59.5" x2="50" y2="59.5" stroke="#868686" stroke-width="1"/>
<line x1="42" y1="76.5" x2="50" y2="76.5" stroke="#868686" stroke-width="1"/>
<line x1="42" y1="94.5" x2="50" y2="94.5" stroke="#868686" stroke-width="1"/>
<line x1="42" y1="111.5" x2="50" y2="111.5" stroke="#868686" stroke-width="1"/>
<line x1="42" y1="128.5" x2="50" y2="128.5" stroke="#868686" stroke-width="1"/>
<line x1="42" y1="145.5" x2="50" y2="145.5" stroke="#868686" stroke-width="1"/>
<line x1="42" y1="163.5" x2="50" y2="163.5" stroke="#868686" stroke-width="1"/>
<line x1="42" y1="180.5" x2="50" y2="180.5" stroke="#868686" stroke-width="1"/>
<line x1="42" y1="197.5" x2="50" y2="197.5" stroke="#868686" stroke-width="1"/>
<line x1="42" y1="214.5" x2="50" y2="214.5" stroke="#868686" stroke-width="1"/>
<line x1="42" y1="231.5" x2="50" y2="231.5" stroke="#868686" stroke-width="1"/>
<line x1="42" y1="231.5" x2="462" y2="231.5" stroke="#868686" stroke-width="1"/>
<line x1="46.5" y1="59" x2="46.5" y2="237" stroke="#868686" stroke-width="1"/>
<g clip-path="url(#clip)">
<polyline points="45.8,231.95 54.1,231.95 62.41,228.51 70.71,231.95 79.01,231.95 87.31,231.95 95.62,225.07 103.92,228.51 112.22,231.95 120.53,221.63 128.83,218.19 137.13,228.51 145.44,221.63 153.74,218.19 162.04,228.51 170.35,231.95 178.65,231.95 186.95,228.51 195.25,221.63 203.56,228.51 211.86,204.43 228.47,231.95 236.77,221.63 245.07,214.75 253.38,221.63 261.68,214.75 269.98,200.99 278.28,211.31 286.59,197.55 294.89,218.19 303.19,211.31 319.8,225.07 328.1,170.03 336.41,180.35 344.71,214.75 353.01,218.19 361.31,200.99 369.62,225.07 377.92,214.75 386.22,204.43 394.53,228.51 402.83,231.95 411.13,231.95 419.44,231.95 427.74,231.95 436.04,231.95 444.34,231.95 452.65,231.95 460.95,231.95" fill="none" stroke="#4A7EBB" stroke-width="2.0" stroke-linejoin="round" stroke-linecap="round"/>
</g>
<circle cx="45.8" cy="231.5" r="3" fill="#4F81BD"/>
<circle cx="54.1" cy="231.5" r="3" fill="#4F81BD"/>
<circle cx="62.41" cy="228.06" r="3" fill="#4F81BD"/>
<circle cx="70.71" cy="231.5" r="3" fill="#4F81BD"/>
<circle cx="79.01" cy="231.5" r="3" fill="#4F81BD"/>
<circle cx="87.31" cy="231.5" r="3" fill="#4F81BD"/>
<circle cx="95.62" cy="224.62" r="3" fill="#4F81BD"/>
<circle cx="103.92" cy="228.06" r="3" fill="#4F81BD"/>
<circle cx="112.22" cy="231.5" r="3" fill="#4F81BD"/>
<circle cx="120.53" cy="221.18" r="3" fill="#4F81BD"/>
<circle cx="128.83" cy="217.74" r="3" fill="#4F81BD"/>
<circle cx="137.13" cy="228.06" r="3" fill="#4F81BD"/>
<circle cx="145.44" cy="221.18" r="3" fill="#4F81BD"/>
<circle cx="153.74" cy="217.74" r="3" fill="#4F81BD"/>
<circle cx="162.04" cy="228.06" r="3" fill="#4F81BD"/>
<circle cx="170.35" cy="231.5" r="3" fill="#4F81BD"/>
<circle cx="178.65" cy="231.5" r="3" fill="#4F81BD"/>
<circle cx="186.95" cy="228.06" r="3" fill="#4F81BD"/>
<circle cx="195.25" cy="221.18" r="3" fill="#4F81BD"/>
<circle cx="203.56" cy="228.06" r="3" fill="#4F81BD"/>
<circle cx="211.86" cy="203.98" r="3" fill="#4F81BD"/>
<circle cx="228.47" cy="231.5" r="3" fill="#4F81BD"/>
<circle cx="236.77" cy="221.18" r="3" fill="#4F81BD"/>
<circle cx="245.07" cy="214.3" r="3" fill="#4F81BD"/>
<circle cx="253.38" cy="221.18" r="3" fill="#4F81BD"/>
<circle cx="261.68" cy="214.3" r="3" fill="#4F81BD"/>
<circle cx="269.98" cy="200.54" r="3" fill="#4F81BD"/>
<circle cx="278.28" cy="210.86" r="3" fill="#4F81BD"/>
<circle cx="286.59" cy="197.1" r="3" fill="#4F81BD"/>
<circle cx="294.89" cy="217.74" r="3" fill="#4F81BD"/>
<circle cx="303.19" cy="210.86" r="3" fill="#4F81BD"/>
<circle cx="319.8" cy="224.62" r="3" fill="#4F81BD"/>
<circle cx="328.1" cy="169.58" r="3" fill="#4F81BD"/>
<circle cx="336.41" cy="179.9" r="3" fill="#4F81BD"/>
<circle cx="344.71" cy="214.3" r="3" fill="#4F81BD"/>
<circle cx="353.01" cy="217.74" r="3" fill="#4F81BD"/>
<circle cx="361.31" cy="200.54" r="3" fill="#4F81BD"/>
<circle cx="369.62" cy="224.62" r="3" fill="#4F81BD"/>
<circle cx="377.92" cy="214.3" r="3" fill="#4F81BD"/>
<circle cx="386.22" cy="203.98" r="3" fill="#4F81BD"/>
<circle cx="394.53" cy="228.06" r="3" fill="#4F81BD"/>
<circle cx="402.83" cy="231.5" r="3" fill="#4F81BD"/>
<circle cx="411.13" cy="231.5" r="3" fill="#4F81BD"/>
<circle cx="419.44" cy="231.5" r="3" fill="#4F81BD"/>
<circle cx="427.74" cy="231.5" r="3" fill="#4F81BD"/>
<circle cx="436.04" cy="231.5" r="3" fill="#4F81BD"/>
<circle cx="444.34" cy="231.5" r="3" fill="#4F81BD"/>
<circle cx="452.65" cy="231.5" r="3" fill="#4F81BD"/>
<circle cx="460.95" cy="231.5" r="3" fill="#4F81BD"/>
<g clip-path="url(#clip)">
<polyline points="45.8,156.27 54.1,180.35 62.41,200.99 70.71,207.87 79.01,183.79 87.31,204.43 95.62,180.35 103.92,156.27 112.22,180.35 120.53,170.03 128.83,166.59 137.13,125.31 145.44,152.83 153.74,139.07 162.04,183.79 170.35,173.47 178.65,159.71 186.95,197.55 195.25,187.23 203.56,149.39 211.86,142.51 228.47,66.83 236.77,180.35 245.07,156.27 253.38,170.03 261.68,194.11 269.98,114.99 278.28,118.43 286.59,152.83 294.89,176.91 303.19,145.95 319.8,173.47 328.1,111.55 336.41,145.95 344.71,159.71 353.01,121.87 361.31,128.75 369.62,149.39 377.92,87.47 386.22,66.83 394.53,53.07 402.83,159.71 411.13,183.79 419.44,204.43 427.74,194.11 436.04,132.19 444.34,42.75 452.65,25.55 460.95,25.55" fill="none" stroke="#BFBFBF" stroke-width="2.0" stroke-linejoin="round" stroke-linecap="round"/>
</g>
<path d="M46.2 152.32L49.4 155.82L46.2 159.32L43 155.82Z" fill="#BFBFBF"/>
<path d="M54.5 176.4L57.7 179.9L54.5 183.4L51.3 179.9Z" fill="#BFBFBF"/>
<path d="M62.81 197.04L66.01 200.54L62.81 204.04L59.61 200.54Z" fill="#BFBFBF"/>
<path d="M71.11 203.92L74.31 207.42L71.11 210.92L67.91 207.42Z" fill="#BFBFBF"/>
<path d="M79.41 179.84L82.61 183.34L79.41 186.84L76.21 183.34Z" fill="#BFBFBF"/>
<path d="M87.72 200.48L90.92 203.98L87.72 207.48L84.52 203.98Z" fill="#BFBFBF"/>
<path d="M96.02 176.4L99.22 179.9L96.02 183.4L92.82 179.9Z" fill="#BFBFBF"/>
<path d="M104.32 152.32L107.52 155.82L104.32 159.32L101.12 155.82Z" fill="#BFBFBF"/>
<path d="M112.62 176.4L115.82 179.9L112.62 183.4L109.42 179.9Z" fill="#BFBFBF"/>
<path d="M120.93 166.08L124.13 169.58L120.93 173.08L117.73 169.58Z" fill="#BFBFBF"/>
<path d="M129.23 162.64L132.43 166.14L129.23 169.64L126.03 166.14Z" fill="#BFBFBF"/>
<path d="M137.53 121.36L140.73 124.86L137.53 128.36L134.33 124.86Z" fill="#BFBFBF"/>
<path d="M145.84 148.88L149.04 152.38L145.84 155.88L142.64 152.38Z" fill="#BFBFBF"/>
<path d="M154.14 135.12L157.34 138.62L154.14 142.12L150.94 138.62Z" fill="#BFBFBF"/>
<path d="M162.44 179.84L165.64 183.34L162.44 186.84L159.24 183.34Z" fill="#BFBFBF"/>
<path d="M170.75 169.52L173.95 173.02L170.75 176.52L167.55 173.02Z" fill="#BFBFBF"/>
<path d="M179.05 155.76L182.25 159.26L179.05 162.76L175.85 159.26Z" fill="#BFBFBF"/>
<path d="M187.35 193.6L190.55 197.1L187.35 200.6L184.15 197.1Z" fill="#BFBFBF"/>
<path d="M195.65 183.28L198.85 186.78L195.65 190.28L192.45 186.78Z" fill="#BFBFBF"/>
<path d="M203.96 145.44L207.16 148.94L203.96 152.44L200.76 148.94Z" fill="#BFBFBF"/>
<path d="M212.26 138.56L215.46 142.06L212.26 145.56L209.06 142.06Z" fill="#BFBFBF"/>
<path d="M228.87 62.88L232.07 66.38L228.87 69.88L225.67 66.38Z" fill="#BFBFBF"/>
<path d="M237.17 176.4L240.37 179.9L237.17 183.4L233.97 179.9Z" fill="#BFBFBF"/>
<path d="M245.47 152.32L248.67 155.82L245.47 159.32L242.27 155.82Z" fill="#BFBFBF"/>
<path d="M253.78 166.08L256.98 169.58L253.78 173.08L250.58 169.58Z" fill="#BFBFBF"/>
<path d="M262.08 190.16L265.28 193.66L262.08 197.16L258.88 193.66Z" fill="#BFBFBF"/>
<path d="M270.38 111.04L273.58 114.54L270.38 118.04L267.18 114.54Z" fill="#BFBFBF"/>
<path d="M278.68 114.48L281.88 117.98L278.68 121.48L275.48 117.98Z" fill="#BFBFBF"/>
<path d="M286.99 148.88L290.19 152.38L286.99 155.88L283.79 152.38Z" fill="#BFBFBF"/>
<path d="M295.29 172.96L298.49 176.46L295.29 179.96L292.09 176.46Z" fill="#BFBFBF"/>
<path d="M303.59 142L306.79 145.5L303.59 149L300.39 145.5Z" fill="#BFBFBF"/>
<path d="M320.2 169.52L323.4 173.02L320.2 176.52L317 173.02Z" fill="#BFBFBF"/>
<path d="M328.5 107.6L331.7 111.1L328.5 114.6L325.3 111.1Z" fill="#BFBFBF"/>
<path d="M336.81 142L340 145.5L336.81 149L333.61 145.5Z" fill="#BFBFBF"/>
<path d="M345.11 155.76L348.31 159.26L345.11 162.76L341.91 159.26Z" fill="#BFBFBF"/>
<path d="M353.41 117.92L356.61 121.42L353.41 124.92L350.21 121.42Z" fill="#BFBFBF"/>
<path d="M361.71 124.8L364.91 128.3L361.71 131.8L358.51 128.3Z" fill="#BFBFBF"/>
<path d="M370.02 145.44L373.22 148.94L370.02 152.44L366.82 148.94Z" fill="#BFBFBF"/>
<path d="M378.32 83.52L381.52 87.02L378.32 90.52L375.12 87.02Z" fill="#BFBFBF"/>
<path d="M386.62 62.88L389.82 66.38L386.62 69.88L383.42 66.38Z" fill="#BFBFBF"/>
<path d="M403.23 155.76L406.43 159.26L403.23 162.76L400.03 159.26Z" fill="#BFBFBF"/>
<path d="M411.53 179.84L414.73 183.34L411.53 186.84L408.33 183.34Z" fill="#BFBFBF"/>
<path d="M419.84 200.48L423.04 203.98L419.84 207.48L416.64 203.98Z" fill="#BFBFBF"/>
<path d="M428.14 190.16L431.34 193.66L428.14 197.16L424.94 193.66Z" fill="#BFBFBF"/>
<path d="M436.44 128.24L439.64 131.74L436.44 135.24L433.24 131.74Z" fill="#BFBFBF"/>
<rect x="402.5" y="12.5" width="89" height="48" fill="#fff" stroke="#000" stroke-width="1"/>
<rect x="12.5" y="12.5" width="480" height="288" fill="none" stroke="#868686" stroke-width="1"/>
<line x1="407" y1="24" x2="435" y2="24" stroke="#4A7EBB" stroke-width="2.0"/>
<circle cx="421" cy="24" r="2.8" fill="#4F81BD"/>
<line x1="407" y1="48" x2="435" y2="48" stroke="#BFBFBF" stroke-width="2.0"/>
<path d="M421 44.8L424.2 48L421 51.2L417.8 48Z" fill="#BFBFBF"/>
<text x="437" y="29" class="lg" textLength="49" lengthAdjust="spacingAndGlyphs">STA+NTA</text>
<text x="437" y="52.5" class="lg" textLength="21.5" lengthAdjust="spacingAndGlyphs">SPO</text>
<text x="200.9" y="37.9" class="tt" textLength="31.8" lengthAdjust="spacingAndGlyphs">2018</text>
<text x="232.6" y="37" class="tj" textLength="69.5" lengthAdjust="spacingAndGlyphs">年おうし群</text>
<text x="26.7" y="35.2" class="yb">[</text>
<text x="33.2" y="35.3" class="yu" textLength="39.2" lengthAdjust="spacingAndGlyphs">出現数</text>
<text x="71.3" y="35.2" class="yb">]</text>
<text x="21.2" y="63.9" class="ax" textLength="14" lengthAdjust="spacingAndGlyphs">50</text>
<text x="21.2" y="81.1" class="ax" textLength="14" lengthAdjust="spacingAndGlyphs">45</text>
<text x="21.2" y="98.3" class="ax" textLength="14" lengthAdjust="spacingAndGlyphs">40</text>
<text x="21.2" y="115.5" class="ax" textLength="14" lengthAdjust="spacingAndGlyphs">35</text>
<text x="21.2" y="132.7" class="ax" textLength="14" lengthAdjust="spacingAndGlyphs">30</text>
<text x="21.2" y="149.9" class="ax" textLength="14" lengthAdjust="spacingAndGlyphs">25</text>
<text x="21.2" y="167.1" class="ax" textLength="14" lengthAdjust="spacingAndGlyphs">20</text>
<text x="21.2" y="184.3" class="ax" textLength="14" lengthAdjust="spacingAndGlyphs">15</text>
<text x="21.2" y="201.5" class="ax" textLength="14" lengthAdjust="spacingAndGlyphs">10</text>
<text x="26.6" y="218.7" class="ax" textLength="7.2" lengthAdjust="spacingAndGlyphs">5</text>
<text x="26.6" y="235.9" class="ax" textLength="7.2" lengthAdjust="spacingAndGlyphs">0</text>
<text x="30.1" y="253.2" class="ax" textLength="32" lengthAdjust="spacingAndGlyphs">10/10</text>
<text x="113.3" y="253.2" class="ax" textLength="32" lengthAdjust="spacingAndGlyphs">10/20</text>
<text x="196.3" y="253.2" class="ax" textLength="32" lengthAdjust="spacingAndGlyphs">10/30</text>
<text x="283" y="253.2" class="ax" textLength="26.2" lengthAdjust="spacingAndGlyphs">11/9</text>
<text x="362.1" y="253.2" class="ax" textLength="31.6" lengthAdjust="spacingAndGlyphs">11/19</text>
<text x="445.3" y="253.2" class="ax" textLength="31.5" lengthAdjust="spacingAndGlyphs">11/29</text>
<text x="257.2" y="290.7" class="fn" textLength="9.4" lengthAdjust="spacingAndGlyphs">*)</text>
<text x="270.9" y="290.7" class="fn" textLength="28.4" lengthAdjust="spacingAndGlyphs">NASA</text>
<text x="303.7" y="290.7" class="fn" textLength="37.9" lengthAdjust="spacingAndGlyphs">all-sky</text>
<text x="343" y="290.7" class="fn" textLength="32.9" lengthAdjust="spacingAndGlyphs">fireall</text>
<text x="377.2" y="290.7" class="fn" textLength="44.5" lengthAdjust="spacingAndGlyphs">network</text>
<text x="422.6" y="290.8" class="fj" textLength="55" lengthAdjust="spacingAndGlyphs">データより</text>
</g>
</svg>
</body></html>
